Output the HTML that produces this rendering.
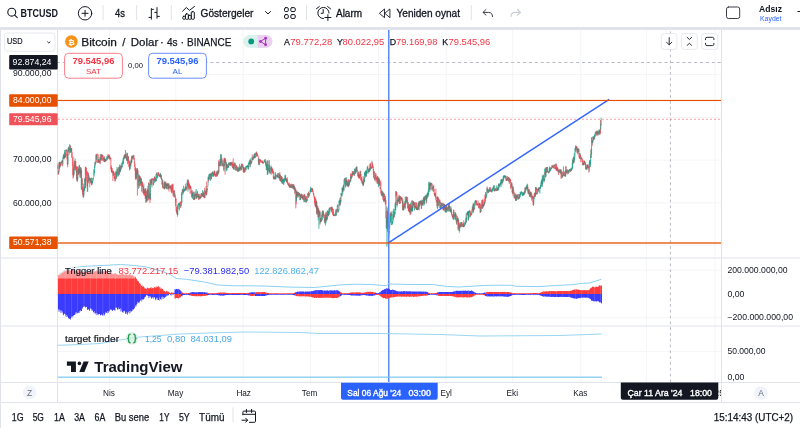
<!DOCTYPE html>
<html><head><meta charset="utf-8"><title>BTCUSD</title>
<style>
html,body{margin:0;padding:0;background:#fff;width:800px;height:428px;overflow:hidden}
svg{display:block;will-change:transform}
text{font-family:"Liberation Sans","DejaVu Sans",sans-serif;fill:#131722}
.b{font-weight:bold}
.m{stroke:#131722;stroke-width:0.3px}
.g{stroke:#089981}.r{stroke:#f23645}
</style></head><body>
<svg width="800" height="428" viewBox="0 0 800 428">
<defs><clipPath id="clipR"><rect x="0" y="0" width="721" height="428"/></clipPath></defs>
<!-- frame -->
<rect x="0" y="0" width="800" height="428" fill="#fff"/>
<rect x="0" y="27" width="800" height="3" fill="#e0e3eb"/>
<rect x="0" y="27" width="1" height="401" fill="#e0e3eb"/>

<!-- ===== top toolbar ===== -->
<g fill="none" stroke="#131722" stroke-width="1.1" stroke-linecap="round" stroke-linejoin="round">
  <circle cx="11.75" cy="12.15" r="3.95"/>
  <path d="M14.7 15.1L17.3 17.6"/>
  <circle cx="85.05" cy="13.3" r="6.7" stroke-width="1"/>
  <path d="M85.05 10.3V16.3M82.05 13.3H88.05" stroke-width="1"/>
  <!-- bars icon -->
  <path d="M151.35 8.2V19.5M148.6 17.4H151.35M151.35 9.4H153.8M157 7.2V18.7M154.4 12.4H157M157 16.4H159.8" stroke-width="1" stroke-linecap="butt"/>
  <!-- indicators -->
  <path d="M182.6 11.2L186.3 7.5L189.5 10.3L194.5 6.5" stroke-width="1"/>
  <rect x="182.8" y="16.3" width="2.6" height="3" rx="0.9" stroke-width="1"/><rect x="185.4" y="13.9" width="3" height="5.4" rx="1" stroke-width="1"/><rect x="188.4" y="15.4" width="2.9" height="3.9" rx="0.9" stroke-width="1"/><rect x="191.3" y="11.7" width="3" height="7.6" rx="1" stroke-width="1"/>
  <path d="M265.5 11.5L268 14L270.5 11.5" stroke-width="1"/>
  <!-- grid -->
  <rect x="284.5" y="7.65" width="3.8" height="3.9" rx="1.2" stroke-width="1"/>
  <rect x="290.8" y="7.65" width="4.45" height="3.9" rx="1.2" stroke-width="1"/>
  <rect x="284.5" y="14.6" width="3.8" height="3.8" rx="1.2" stroke-width="1"/>
  <rect x="290.8" y="14.6" width="4.45" height="3.8" rx="1.2" stroke-width="1"/>
  <!-- alarm -->
  <path d="M323.45 18.65A5.6 5.6 0 1 1 329.05 13.05" stroke-width="1"/>
  <path d="M323.2 9.5V13.3H321.2" stroke-width="1"/>
  <path d="M316.4 8.8L319.3 6.5M327.6 6.5L330.6 8.9" stroke-width="1"/>
  <path d="M324.9 17.5H330.9M327.9 14.7V20.5" stroke-width="1"/>
  <!-- replay -->
  <path d="M384.2 9.2L379.4 13.3L384.2 17.4ZM389.6 9.2L384.8 13.3L389.6 17.4Z" stroke-width="0.9"/>
  <!-- undo -->
  <path d="M486 9.5L483 12.4L486 15.2M483.2 12.4H488.5Q492.5 12.4 492.5 16.6" stroke="#3b3e48" stroke-width="1"/>
  <path d="M517.5 9.5L520.5 12.4L517.5 15.2M520.3 12.4H515Q511 12.4 511 16.6" stroke="#c9ccd6" stroke-width="1.1"/>
  <!-- square -->
  <rect x="726.5" y="7" width="13.2" height="11.5" rx="2" stroke="#3c3f4a" stroke-width="1"/>
</g>
<rect x="102.6" y="5" width="1" height="15" fill="#e0e3eb"/>
<rect x="136.1" y="5" width="1" height="15" fill="#e0e3eb"/>
<rect x="170.8" y="5" width="1" height="15" fill="#e0e3eb"/>
<rect x="306" y="5" width="1" height="15" fill="#e0e3eb"/>
<rect x="470.8" y="5" width="1" height="15" fill="#e0e3eb"/>
<text class="b" x="20.6" y="16.6" font-size="10" textLength="37.4" lengthAdjust="spacingAndGlyphs">BTCUSD</text>
<text class="m" x="115" y="16.6" font-size="10" textLength="10" lengthAdjust="spacingAndGlyphs">4s</text>
<text class="m" x="200.5" y="16.6" font-size="10" textLength="53" lengthAdjust="spacingAndGlyphs">Göstergeler</text>
<text class="m" x="336" y="16.6" font-size="10" textLength="26" lengthAdjust="spacingAndGlyphs">Alarm</text>
<text class="m" x="396.5" y="16.6" font-size="10" textLength="63.5" lengthAdjust="spacingAndGlyphs">Yeniden oynat</text>
<text x="759" y="12.4" font-size="9.4" class="b" textLength="23" lengthAdjust="spacingAndGlyphs">Adsız</text>
<text x="760" y="20.8" font-size="7" fill="#2962ff" style="fill:#2962ff" textLength="21.5" lengthAdjust="spacingAndGlyphs">Kaydet</text>
<path d="M797.5 11.5H800" stroke="#131722" stroke-width="1"/>

<!-- ===== chart frame ===== -->
<!-- grid vertical -->
<g stroke="#f4f5f6" stroke-width="1">
</g>
<path d="M109.5 30V382" stroke="#f4f5f6" stroke-width="1"/><path d="M175.8 30V382" stroke="#f4f5f6" stroke-width="1"/><path d="M243.2 30V382" stroke="#f4f5f6" stroke-width="1"/><path d="M310.5 30V382" stroke="#f4f5f6" stroke-width="1"/><path d="M378.5 30V382" stroke="#f4f5f6" stroke-width="1"/><path d="M446.2 30V382" stroke="#f4f5f6" stroke-width="1"/><path d="M512.6 30V382" stroke="#f4f5f6" stroke-width="1"/><path d="M580.8 30V382" stroke="#f4f5f6" stroke-width="1"/><path d="M646.4 30V382" stroke="#f4f5f6" stroke-width="1"/><path d="M715.0 30V382" stroke="#f4f5f6" stroke-width="1"/><path d="M58 74.5H721" stroke="#f4f5f6" stroke-width="1"/><path d="M58 117.5H721" stroke="#f4f5f6" stroke-width="1"/><path d="M58 160.2H721" stroke="#f4f5f6" stroke-width="1"/><path d="M58 202.8H721" stroke="#f4f5f6" stroke-width="1"/><path d="M58 245.0H721" stroke="#f4f5f6" stroke-width="1"/><path d="M58 270.3H721" stroke="#f4f5f6" stroke-width="1"/><path d="M58 317.7H721" stroke="#f4f5f6" stroke-width="1"/><path d="M58 351.5H721" stroke="#f4f5f6" stroke-width="1"/>

<!-- pane separators -->
<rect x="1" y="257" width="799" height="2" fill="#eef0f3"/>
<rect x="1" y="325.5" width="799" height="1" fill="#e0e3eb"/>
<rect x="1" y="382" width="799" height="1" fill="#e0e3eb"/>
<rect x="1" y="402" width="799" height="1" fill="#e0e3eb"/>
<rect x="57" y="30" width="1" height="373" fill="#e0e3eb"/>
<rect x="721" y="30" width="1" height="373" fill="#e0e3eb"/>

<!-- crosshair -->
<path d="M670.4 30V382" stroke="#b8bbc3" stroke-width="1" stroke-dasharray="2.8 3" stroke-dashoffset="4.4"/>
<path d="M58 62.5H721" stroke="#b8bbc3" stroke-width="1" stroke-dasharray="3.1 2.8" stroke-dashoffset="1.15"/>

<!-- main pane candles -->
<g stroke-width="0.7" fill="none"><path class="g" d="M57.80 165.5V168.8"/><path class="r" d="M58.14 162.7V174.7"/><path class="r" d="M58.48 170.5V174.3"/><path class="g" d="M58.82 171.2V173.1"/><path class="g" d="M59.16 162.6V171.9"/><path class="r" d="M59.50 161.9V169.5"/><path class="g" d="M59.84 161.8V167.3"/><path class="g" d="M60.18 161.7V167.3"/><path class="r" d="M60.52 162.6V165.8"/><path class="r" d="M60.86 164.1V166.2"/><path class="g" d="M61.20 162.1V165.3"/><path class="g" d="M61.54 161.6V163.5"/><path class="g" d="M61.88 160.9V162.8"/><path class="g" d="M62.22 159.9V162.0"/><path class="r" d="M62.56 160.2V166.3"/><path class="g" d="M62.90 157.2V164.1"/><path class="g" d="M63.24 155.6V158.3"/><path class="g" d="M63.58 153.9V159.4"/><path class="r" d="M63.92 154.7V158.3"/><path class="r" d="M64.26 154.9V159.3"/><path class="g" d="M64.60 150.0V158.2"/><path class="g" d="M64.94 152.1V157.9"/><path class="r" d="M65.28 152.4V157.6"/><path class="g" d="M65.62 150.1V157.2"/><path class="g" d="M65.96 149.4V150.8"/><path class="g" d="M66.30 149.4V151.5"/><path class="r" d="M66.64 149.9V155.7"/><path class="r" d="M66.98 154.3V159.2"/><path class="r" d="M67.32 155.1V164.7"/><path class="r" d="M67.66 150.3V167.3"/><path class="g" d="M68.00 148.5V164.5"/><path class="g" d="M68.34 147.7V151.7"/><path class="g" d="M68.68 146.5V149.4"/><path class="r" d="M69.02 147.2V155.1"/><path class="g" d="M69.36 149.2V152.9"/><path class="g" d="M69.70 144.1V150.0"/><path class="g" d="M70.04 145.1V150.6"/><path class="r" d="M70.38 145.8V152.3"/><path class="g" d="M70.72 148.3V152.8"/><path class="g" d="M71.06 147.8V152.5"/><path class="g" d="M71.40 148.2V151.9"/><path class="r" d="M71.74 147.9V157.7"/><path class="r" d="M72.08 152.0V157.7"/><path class="r" d="M72.42 157.5V165.6"/><path class="r" d="M72.76 164.7V175.1"/><path class="r" d="M73.10 156.3V178.7"/><path class="g" d="M73.44 168.8V177.5"/><path class="r" d="M73.78 166.2V176.1"/><path class="g" d="M74.12 161.7V174.7"/><path class="r" d="M74.46 160.6V166.3"/><path class="r" d="M74.80 164.9V170.0"/><path class="g" d="M75.14 158.3V170.5"/><path class="r" d="M75.48 161.0V168.5"/><path class="r" d="M75.82 161.1V169.8"/><path class="r" d="M76.16 166.2V172.2"/><path class="r" d="M76.50 166.5V179.4"/><path class="g" d="M76.84 170.0V180.9"/><path class="r" d="M77.18 166.9V182.1"/><path class="r" d="M77.52 177.2V180.8"/><path class="g" d="M77.86 166.2V178.9"/><path class="r" d="M78.20 166.6V175.3"/><path class="g" d="M78.54 168.6V174.3"/><path class="r" d="M78.88 169.0V174.6"/><path class="g" d="M79.22 164.8V173.4"/><path class="r" d="M79.56 165.0V173.1"/><path class="r" d="M79.90 167.1V176.9"/><path class="g" d="M80.24 169.6V178.0"/><path class="g" d="M80.58 167.0V173.8"/><path class="r" d="M80.92 167.6V177.8"/><path class="g" d="M81.26 168.3V189.4"/><path class="r" d="M81.60 170.5V189.7"/><path class="g" d="M81.94 178.8V185.0"/><path class="r" d="M82.28 178.1V191.8"/><path class="r" d="M82.62 186.7V194.7"/><path class="r" d="M82.96 188.8V196.7"/><path class="g" d="M83.30 183.7V197.9"/><path class="r" d="M83.64 190.0V197.3"/><path class="g" d="M83.98 186.7V195.6"/><path class="g" d="M84.32 186.6V190.4"/><path class="g" d="M84.66 178.6V191.1"/><path class="g" d="M85.00 177.8V185.3"/><path class="r" d="M85.34 166.9V188.0"/><path class="g" d="M85.68 166.7V188.3"/><path class="r" d="M86.02 167.3V172.6"/><path class="r" d="M86.36 168.0V174.0"/><path class="r" d="M86.70 172.8V181.3"/><path class="r" d="M87.04 171.7V186.3"/><path class="r" d="M87.38 180.7V191.7"/><path class="g" d="M87.72 171.1V191.9"/><path class="r" d="M88.06 172.3V175.5"/><path class="r" d="M88.40 173.6V183.3"/><path class="g" d="M88.74 175.0V181.5"/><path class="r" d="M89.08 176.3V180.0"/><path class="r" d="M89.42 177.6V180.3"/><path class="r" d="M89.76 178.6V187.3"/><path class="r" d="M90.10 178.3V182.8"/><path class="g" d="M90.44 178.0V182.5"/><path class="g" d="M90.78 178.3V180.1"/><path class="r" d="M91.12 178.4V183.9"/><path class="r" d="M91.46 180.2V185.1"/><path class="r" d="M91.80 177.3V185.2"/><path class="g" d="M92.14 181.2V184.4"/><path class="g" d="M92.48 180.8V183.0"/><path class="g" d="M92.82 178.2V181.7"/><path class="g" d="M93.16 178.1V180.3"/><path class="g" d="M93.50 177.5V178.9"/><path class="g" d="M93.84 169.0V177.5"/><path class="g" d="M94.18 171.1V175.4"/><path class="g" d="M94.52 165.8V173.0"/><path class="g" d="M94.86 161.7V168.4"/><path class="r" d="M95.20 162.5V165.9"/><path class="g" d="M95.54 162.3V164.3"/><path class="g" d="M95.88 154.3V163.5"/><path class="r" d="M96.22 155.1V162.0"/><path class="g" d="M96.56 154.4V159.8"/><path class="r" d="M96.90 153.7V155.7"/><path class="r" d="M97.24 153.7V162.7"/><path class="r" d="M97.58 161.6V162.7"/><path class="r" d="M97.92 160.6V162.6"/><path class="r" d="M98.26 154.3V162.8"/><path class="g" d="M98.60 158.7V162.5"/><path class="r" d="M98.94 159.8V161.7"/><path class="r" d="M99.28 160.3V163.3"/><path class="g" d="M99.62 159.3V163.2"/><path class="g" d="M99.96 157.0V161.6"/><path class="r" d="M100.30 154.3V164.2"/><path class="g" d="M100.64 157.8V160.1"/><path class="g" d="M100.98 154.0V158.6"/><path class="r" d="M101.32 154.2V160.5"/><path class="g" d="M101.66 154.6V159.5"/><path class="g" d="M102.00 154.6V157.3"/><path class="r" d="M102.34 154.7V161.0"/><path class="r" d="M102.68 155.2V156.0"/><path class="r" d="M103.02 155.5V159.8"/><path class="r" d="M103.36 158.2V160.1"/><path class="r" d="M103.70 156.9V161.5"/><path class="g" d="M104.04 158.7V161.1"/><path class="r" d="M104.38 156.3V162.1"/><path class="g" d="M104.72 157.7V162.1"/><path class="r" d="M105.06 159.1V162.1"/><path class="g" d="M105.40 159.2V161.8"/><path class="r" d="M105.74 158.5V161.3"/><path class="g" d="M106.08 159.9V160.9"/><path class="r" d="M106.42 159.8V160.7"/><path class="g" d="M106.76 156.3V160.4"/><path class="g" d="M107.10 157.6V159.9"/><path class="g" d="M107.44 156.7V159.4"/><path class="g" d="M107.78 154.7V158.0"/><path class="r" d="M108.12 154.3V157.4"/><path class="g" d="M108.46 156.1V157.6"/><path class="r" d="M108.80 154.3V158.8"/><path class="g" d="M109.14 156.6V158.9"/><path class="g" d="M109.48 155.2V158.4"/><path class="r" d="M109.82 155.8V160.2"/><path class="g" d="M110.16 157.5V158.3"/><path class="r" d="M110.50 157.7V159.2"/><path class="r" d="M110.84 157.9V169.2"/><path class="r" d="M111.18 165.3V171.3"/><path class="g" d="M111.52 167.1V172.6"/><path class="r" d="M111.86 168.0V172.4"/><path class="r" d="M112.20 168.4V172.3"/><path class="r" d="M112.54 171.3V173.3"/><path class="r" d="M112.88 170.4V181.0"/><path class="g" d="M113.22 171.6V176.1"/><path class="g" d="M113.56 171.2V175.0"/><path class="r" d="M113.90 171.5V175.5"/><path class="r" d="M114.24 173.2V178.5"/><path class="r" d="M114.58 176.2V179.4"/><path class="r" d="M114.92 173.2V181.6"/><path class="g" d="M115.26 177.4V181.1"/><path class="g" d="M115.60 172.0V179.5"/><path class="g" d="M115.94 170.6V173.8"/><path class="r" d="M116.28 173.1V179.0"/><path class="g" d="M116.62 171.5V178.3"/><path class="g" d="M116.96 166.9V176.8"/><path class="r" d="M117.30 169.1V173.2"/><path class="r" d="M117.64 168.4V174.6"/><path class="r" d="M117.98 171.6V176.5"/><path class="g" d="M118.32 174.3V176.1"/><path class="g" d="M118.66 167.0V175.1"/><path class="r" d="M119.00 167.1V174.6"/><path class="g" d="M119.34 164.8V174.7"/><path class="g" d="M119.68 166.9V173.5"/><path class="r" d="M120.02 164.7V172.2"/><path class="g" d="M120.36 168.7V171.8"/><path class="g" d="M120.70 165.5V170.8"/><path class="r" d="M121.04 165.6V169.8"/><path class="g" d="M121.38 162.7V168.6"/><path class="r" d="M121.72 166.2V168.2"/><path class="g" d="M122.06 166.2V167.5"/><path class="g" d="M122.40 162.4V166.8"/><path class="g" d="M122.74 160.7V164.7"/><path class="g" d="M123.08 158.4V163.5"/><path class="g" d="M123.42 157.6V164.2"/><path class="g" d="M123.76 156.7V159.7"/><path class="g" d="M124.10 155.2V158.3"/><path class="r" d="M124.44 154.7V158.1"/><path class="g" d="M124.78 154.9V159.0"/><path class="r" d="M125.12 154.0V157.8"/><path class="g" d="M125.46 150.0V158.0"/><path class="r" d="M125.80 154.1V158.2"/><path class="r" d="M126.14 154.6V158.5"/><path class="r" d="M126.48 156.6V160.7"/><path class="g" d="M126.82 152.6V160.6"/><path class="r" d="M127.16 152.8V155.9"/><path class="r" d="M127.50 153.5V164.2"/><path class="r" d="M127.84 157.5V161.5"/><path class="g" d="M128.18 155.7V161.0"/><path class="r" d="M128.52 156.5V163.3"/><path class="r" d="M128.86 161.3V166.7"/><path class="r" d="M129.20 163.8V167.4"/><path class="g" d="M129.54 160.6V170.5"/><path class="r" d="M129.88 161.6V169.4"/><path class="g" d="M130.22 163.9V169.0"/><path class="r" d="M130.56 162.5V165.9"/><path class="g" d="M130.90 160.2V166.3"/><path class="r" d="M131.24 159.0V163.6"/><path class="g" d="M131.58 156.7V163.4"/><path class="g" d="M131.92 155.6V162.1"/><path class="r" d="M132.26 155.5V158.5"/><path class="g" d="M132.60 156.0V158.5"/><path class="r" d="M132.94 155.7V159.5"/><path class="g" d="M133.28 156.6V158.3"/><path class="g" d="M133.62 154.8V157.9"/><path class="r" d="M133.96 155.2V160.0"/><path class="r" d="M134.30 158.0V162.9"/><path class="r" d="M134.64 161.6V166.8"/><path class="r" d="M134.98 163.6V171.0"/><path class="r" d="M135.32 166.9V178.7"/><path class="g" d="M135.66 168.1V179.8"/><path class="r" d="M136.00 169.8V177.8"/><path class="r" d="M136.34 171.8V179.6"/><path class="g" d="M136.68 168.4V178.3"/><path class="r" d="M137.02 168.0V173.3"/><path class="r" d="M137.36 168.4V195.7"/><path class="g" d="M137.70 169.3V175.2"/><path class="r" d="M138.04 170.3V186.0"/><path class="g" d="M138.38 180.1V188.9"/><path class="g" d="M138.72 174.2V182.3"/><path class="r" d="M139.06 175.8V188.0"/><path class="g" d="M139.40 175.3V186.3"/><path class="g" d="M139.74 175.6V180.7"/><path class="r" d="M140.08 176.1V181.5"/><path class="r" d="M140.42 177.1V185.9"/><path class="g" d="M140.76 178.5V184.1"/><path class="g" d="M141.10 178.3V185.4"/><path class="r" d="M141.44 178.4V191.7"/><path class="r" d="M141.78 180.9V184.5"/><path class="r" d="M142.12 182.1V186.5"/><path class="r" d="M142.46 181.8V187.0"/><path class="r" d="M142.80 185.3V193.0"/><path class="g" d="M143.14 185.8V191.6"/><path class="r" d="M143.48 187.3V194.1"/><path class="g" d="M143.82 183.7V194.2"/><path class="r" d="M144.16 191.4V195.9"/><path class="g" d="M144.50 189.2V193.2"/><path class="r" d="M144.84 188.4V195.6"/><path class="r" d="M145.18 191.4V198.9"/><path class="g" d="M145.52 188.7V197.9"/><path class="r" d="M145.86 187.9V203.1"/><path class="g" d="M146.20 194.7V202.1"/><path class="r" d="M146.54 190.4V201.6"/><path class="g" d="M146.88 196.3V200.9"/><path class="g" d="M147.22 190.6V201.6"/><path class="g" d="M147.56 188.7V197.1"/><path class="r" d="M147.90 185.8V200.0"/><path class="r" d="M148.24 190.3V200.5"/><path class="g" d="M148.58 183.1V198.4"/><path class="r" d="M148.92 182.0V185.5"/><path class="r" d="M149.26 183.8V199.5"/><path class="g" d="M149.60 192.9V198.5"/><path class="r" d="M149.94 179.3V203.1"/><path class="r" d="M150.28 193.7V200.2"/><path class="g" d="M150.62 179.9V199.0"/><path class="r" d="M150.96 179.3V184.3"/><path class="g" d="M151.30 178.7V185.1"/><path class="r" d="M151.64 178.7V182.8"/><path class="g" d="M151.98 178.7V187.3"/><path class="g" d="M152.32 178.5V180.2"/><path class="r" d="M152.66 178.8V180.2"/><path class="r" d="M153.00 178.3V184.7"/><path class="r" d="M153.34 183.1V185.4"/><path class="g" d="M153.68 178.9V184.7"/><path class="g" d="M154.02 178.2V180.8"/><path class="g" d="M154.36 176.4V183.1"/><path class="r" d="M154.70 177.1V179.4"/><path class="r" d="M155.04 176.7V181.1"/><path class="r" d="M155.38 177.8V181.0"/><path class="r" d="M155.72 179.6V182.2"/><path class="g" d="M156.06 174.2V181.3"/><path class="g" d="M156.40 172.9V181.0"/><path class="g" d="M156.74 172.9V173.9"/><path class="r" d="M157.08 172.2V174.8"/><path class="r" d="M157.42 174.3V178.4"/><path class="g" d="M157.76 174.9V177.9"/><path class="g" d="M158.10 172.4V176.2"/><path class="r" d="M158.44 172.1V175.7"/><path class="r" d="M158.78 173.4V174.6"/><path class="r" d="M159.12 174.0V176.1"/><path class="r" d="M159.46 175.3V176.8"/><path class="g" d="M159.80 174.3V176.7"/><path class="r" d="M160.14 173.6V177.1"/><path class="g" d="M160.48 173.2V176.8"/><path class="r" d="M160.82 175.1V178.5"/><path class="g" d="M161.16 174.6V178.7"/><path class="r" d="M161.50 175.5V179.9"/><path class="r" d="M161.84 178.3V184.1"/><path class="r" d="M162.18 183.0V185.0"/><path class="g" d="M162.52 179.3V187.3"/><path class="r" d="M162.86 180.1V188.0"/><path class="r" d="M163.20 183.5V188.5"/><path class="r" d="M163.54 187.1V188.2"/><path class="r" d="M163.88 186.7V188.4"/><path class="g" d="M164.22 181.4V189.2"/><path class="r" d="M164.56 181.6V189.4"/><path class="g" d="M164.90 182.7V188.9"/><path class="g" d="M165.24 181.5V185.1"/><path class="r" d="M165.58 181.9V188.3"/><path class="g" d="M165.92 183.9V188.0"/><path class="r" d="M166.26 182.7V186.9"/><path class="r" d="M166.60 183.6V189.0"/><path class="g" d="M166.94 183.7V189.4"/><path class="g" d="M167.28 184.0V189.3"/><path class="g" d="M167.62 183.3V186.5"/><path class="g" d="M167.96 183.1V185.2"/><path class="r" d="M168.30 183.9V189.0"/><path class="g" d="M168.64 183.5V189.5"/><path class="r" d="M168.98 183.7V191.5"/><path class="g" d="M169.32 185.6V187.8"/><path class="r" d="M169.66 185.7V188.3"/><path class="g" d="M170.00 185.6V187.5"/><path class="r" d="M170.34 185.5V189.3"/><path class="g" d="M170.68 186.3V188.5"/><path class="r" d="M171.02 185.5V191.5"/><path class="r" d="M171.36 186.5V192.6"/><path class="g" d="M171.70 185.0V193.3"/><path class="g" d="M172.04 184.3V186.0"/><path class="r" d="M172.38 183.9V190.5"/><path class="r" d="M172.72 185.1V192.6"/><path class="r" d="M173.06 183.7V195.7"/><path class="r" d="M173.40 190.9V196.9"/><path class="g" d="M173.74 190.9V194.4"/><path class="g" d="M174.08 190.1V192.3"/><path class="r" d="M174.42 190.4V197.4"/><path class="g" d="M174.76 193.0V196.8"/><path class="r" d="M175.10 194.5V197.3"/><path class="r" d="M175.44 196.3V206.3"/><path class="r" d="M175.78 197.6V201.7"/><path class="r" d="M176.12 199.0V211.0"/><path class="r" d="M176.46 207.0V212.4"/><path class="r" d="M176.80 210.2V214.3"/><path class="g" d="M177.14 210.2V213.8"/><path class="g" d="M177.48 204.8V216.7"/><path class="g" d="M177.82 206.8V215.1"/><path class="g" d="M178.16 203.5V209.1"/><path class="g" d="M178.50 204.1V205.0"/><path class="g" d="M178.84 202.8V206.8"/><path class="g" d="M179.18 203.0V204.4"/><path class="r" d="M179.52 202.7V210.5"/><path class="g" d="M179.86 203.1V205.3"/><path class="r" d="M180.20 201.6V204.2"/><path class="r" d="M180.54 201.6V208.0"/><path class="g" d="M180.88 205.0V207.0"/><path class="g" d="M181.22 204.4V205.9"/><path class="g" d="M181.56 192.1V204.9"/><path class="g" d="M181.90 193.7V203.0"/><path class="g" d="M182.24 189.6V195.1"/><path class="g" d="M182.58 188.6V192.8"/><path class="r" d="M182.92 190.2V192.1"/><path class="r" d="M183.26 189.8V194.4"/><path class="g" d="M183.60 185.8V192.7"/><path class="g" d="M183.94 189.3V191.8"/><path class="g" d="M184.28 189.5V191.5"/><path class="g" d="M184.62 188.9V190.7"/><path class="g" d="M184.96 187.9V190.8"/><path class="r" d="M185.30 186.5V190.5"/><path class="r" d="M185.64 183.7V190.2"/><path class="g" d="M185.98 186.6V190.2"/><path class="g" d="M186.32 186.9V188.2"/><path class="r" d="M186.66 186.5V190.3"/><path class="g" d="M187.00 182.5V189.1"/><path class="g" d="M187.34 179.9V186.1"/><path class="r" d="M187.68 180.0V186.6"/><path class="g" d="M188.02 179.1V191.5"/><path class="r" d="M188.36 180.1V185.2"/><path class="r" d="M188.70 181.9V188.8"/><path class="r" d="M189.04 182.9V188.0"/><path class="g" d="M189.38 184.2V189.7"/><path class="r" d="M189.72 184.3V188.0"/><path class="r" d="M190.06 185.3V193.7"/><path class="r" d="M190.40 186.0V188.8"/><path class="r" d="M190.74 186.7V188.4"/><path class="r" d="M191.08 187.5V193.5"/><path class="r" d="M191.42 190.8V196.3"/><path class="r" d="M191.76 195.3V197.2"/><path class="r" d="M192.10 190.0V197.9"/><path class="g" d="M192.44 193.0V198.8"/><path class="g" d="M192.78 191.5V196.1"/><path class="r" d="M193.12 191.5V194.3"/><path class="r" d="M193.46 192.3V199.9"/><path class="r" d="M193.80 198.0V199.8"/><path class="g" d="M194.14 194.3V200.0"/><path class="r" d="M194.48 194.2V200.1"/><path class="g" d="M194.82 192.1V199.1"/><path class="r" d="M195.16 191.3V195.4"/><path class="r" d="M195.50 194.1V196.4"/><path class="r" d="M195.84 194.6V198.9"/><path class="g" d="M196.18 189.0V198.0"/><path class="r" d="M196.52 193.2V198.7"/><path class="g" d="M196.86 195.3V198.8"/><path class="g" d="M197.20 190.7V197.1"/><path class="r" d="M197.54 191.5V196.4"/><path class="r" d="M197.88 194.2V197.5"/><path class="g" d="M198.22 196.4V197.5"/><path class="r" d="M198.56 194.3V200.0"/><path class="g" d="M198.90 193.7V198.8"/><path class="r" d="M199.24 193.9V197.9"/><path class="r" d="M199.58 196.1V199.4"/><path class="g" d="M199.92 196.0V199.1"/><path class="r" d="M200.26 196.9V198.5"/><path class="r" d="M200.60 194.3V198.4"/><path class="g" d="M200.94 196.5V198.0"/><path class="g" d="M201.28 193.1V197.5"/><path class="r" d="M201.62 193.0V195.3"/><path class="g" d="M201.96 193.2V196.1"/><path class="r" d="M202.30 194.1V196.6"/><path class="g" d="M202.64 190.0V196.3"/><path class="r" d="M202.98 192.7V196.7"/><path class="g" d="M203.32 192.7V197.1"/><path class="r" d="M203.66 191.3V197.1"/><path class="r" d="M204.00 193.1V197.6"/><path class="r" d="M204.34 195.6V198.1"/><path class="r" d="M204.68 187.9V198.3"/><path class="g" d="M205.02 190.1V197.9"/><path class="r" d="M205.36 191.6V193.9"/><path class="r" d="M205.70 191.0V193.8"/><path class="g" d="M206.04 186.2V195.8"/><path class="r" d="M206.38 189.3V194.9"/><path class="r" d="M206.72 181.6V194.5"/><path class="g" d="M207.06 188.7V192.4"/><path class="g" d="M207.40 188.2V190.0"/><path class="g" d="M207.74 185.5V187.4"/><path class="g" d="M208.08 176.6V185.2"/><path class="r" d="M208.42 177.0V181.6"/><path class="g" d="M208.76 174.3V180.3"/><path class="g" d="M209.10 177.5V179.6"/><path class="g" d="M209.44 174.2V179.3"/><path class="g" d="M209.78 173.7V176.6"/><path class="r" d="M210.12 173.7V178.1"/><path class="g" d="M210.46 173.5V181.0"/><path class="g" d="M210.80 173.8V175.2"/><path class="r" d="M211.14 172.8V179.5"/><path class="g" d="M211.48 174.7V179.0"/><path class="g" d="M211.82 172.9V176.2"/><path class="g" d="M212.16 172.2V175.0"/><path class="g" d="M212.50 171.5V176.7"/><path class="g" d="M212.84 171.9V173.0"/><path class="r" d="M213.18 171.7V174.5"/><path class="r" d="M213.52 173.1V176.6"/><path class="g" d="M213.86 172.9V176.6"/><path class="g" d="M214.20 170.6V174.6"/><path class="r" d="M214.54 170.7V175.7"/><path class="r" d="M214.88 171.5V174.8"/><path class="r" d="M215.22 173.5V176.6"/><path class="g" d="M215.56 174.2V176.6"/><path class="r" d="M215.90 174.6V175.6"/><path class="g" d="M216.24 171.5V175.4"/><path class="r" d="M216.58 171.7V176.7"/><path class="r" d="M216.92 174.3V176.7"/><path class="g" d="M217.26 171.3V176.0"/><path class="r" d="M217.60 170.1V175.3"/><path class="g" d="M217.94 172.2V174.7"/><path class="g" d="M218.28 170.9V174.0"/><path class="r" d="M218.62 160.3V173.4"/><path class="g" d="M218.96 162.3V172.2"/><path class="r" d="M219.30 161.3V165.9"/><path class="r" d="M219.64 163.2V166.3"/><path class="g" d="M219.98 158.9V166.0"/><path class="r" d="M220.32 159.4V166.4"/><path class="g" d="M220.66 154.3V165.4"/><path class="g" d="M221.00 154.1V163.2"/><path class="r" d="M221.34 154.7V163.1"/><path class="r" d="M221.68 157.9V165.7"/><path class="r" d="M222.02 164.3V166.0"/><path class="g" d="M222.36 163.0V166.4"/><path class="g" d="M222.70 160.6V163.7"/><path class="r" d="M223.04 158.3V166.4"/><path class="r" d="M223.38 163.2V166.0"/><path class="r" d="M223.72 164.9V170.2"/><path class="g" d="M224.06 160.0V171.5"/><path class="g" d="M224.40 157.7V166.1"/><path class="r" d="M224.74 158.1V162.5"/><path class="r" d="M225.08 157.9V174.7"/><path class="r" d="M225.42 159.0V163.0"/><path class="r" d="M225.76 160.1V165.2"/><path class="r" d="M226.10 163.4V169.1"/><path class="g" d="M226.44 162.2V171.1"/><path class="r" d="M226.78 163.7V168.2"/><path class="g" d="M227.12 164.2V170.5"/><path class="r" d="M227.46 164.3V167.2"/><path class="r" d="M227.80 165.4V168.1"/><path class="g" d="M228.14 166.1V168.0"/><path class="g" d="M228.48 163.4V167.6"/><path class="g" d="M228.82 162.5V164.5"/><path class="r" d="M229.16 162.2V166.3"/><path class="g" d="M229.50 163.5V165.1"/><path class="g" d="M229.84 162.4V164.9"/><path class="r" d="M230.18 162.8V165.7"/><path class="g" d="M230.52 162.1V165.5"/><path class="r" d="M230.86 162.1V165.2"/><path class="g" d="M231.20 162.7V166.3"/><path class="r" d="M231.54 162.4V164.8"/><path class="g" d="M231.88 162.3V164.7"/><path class="r" d="M232.22 161.5V166.9"/><path class="r" d="M232.56 163.0V168.2"/><path class="g" d="M232.90 166.8V168.1"/><path class="r" d="M233.24 158.3V168.8"/><path class="g" d="M233.58 164.0V169.2"/><path class="r" d="M233.92 164.2V169.5"/><path class="g" d="M234.26 162.7V169.9"/><path class="r" d="M234.60 162.9V165.8"/><path class="g" d="M234.94 162.5V164.9"/><path class="r" d="M235.28 163.5V168.3"/><path class="r" d="M235.62 164.8V170.5"/><path class="r" d="M235.96 167.0V170.3"/><path class="g" d="M236.30 165.2V170.6"/><path class="r" d="M236.64 165.3V167.9"/><path class="r" d="M236.98 166.2V170.6"/><path class="r" d="M237.32 168.4V171.4"/><path class="g" d="M237.66 166.9V171.5"/><path class="r" d="M238.00 169.1V171.9"/><path class="g" d="M238.34 168.2V171.7"/><path class="g" d="M238.68 166.7V170.3"/><path class="r" d="M239.02 167.6V168.4"/><path class="r" d="M239.36 168.0V171.3"/><path class="g" d="M239.70 163.7V171.1"/><path class="g" d="M240.04 166.6V169.3"/><path class="g" d="M240.38 166.3V168.6"/><path class="r" d="M240.72 166.4V170.6"/><path class="g" d="M241.06 168.0V169.9"/><path class="g" d="M241.40 164.4V170.2"/><path class="g" d="M241.74 163.4V169.4"/><path class="r" d="M242.08 163.8V166.8"/><path class="r" d="M242.42 164.0V166.6"/><path class="g" d="M242.76 165.7V168.1"/><path class="r" d="M243.10 165.1V171.2"/><path class="g" d="M243.44 167.4V172.4"/><path class="r" d="M243.78 166.9V173.0"/><path class="g" d="M244.12 167.3V172.2"/><path class="r" d="M244.46 167.7V172.6"/><path class="r" d="M244.80 170.3V172.1"/><path class="g" d="M245.14 169.0V172.0"/><path class="g" d="M245.48 167.5V169.9"/><path class="g" d="M245.82 166.3V169.1"/><path class="g" d="M246.16 166.2V170.5"/><path class="g" d="M246.50 166.0V167.7"/><path class="g" d="M246.84 165.5V166.9"/><path class="g" d="M247.18 165.8V166.6"/><path class="g" d="M247.52 164.8V167.1"/><path class="r" d="M247.86 165.5V168.7"/><path class="r" d="M248.20 164.8V169.4"/><path class="g" d="M248.54 163.1V169.5"/><path class="g" d="M248.88 162.2V164.0"/><path class="g" d="M249.22 161.0V164.5"/><path class="r" d="M249.56 160.0V164.4"/><path class="r" d="M249.90 162.4V167.5"/><path class="g" d="M250.24 158.3V167.0"/><path class="g" d="M250.58 159.9V163.3"/><path class="r" d="M250.92 160.1V164.7"/><path class="g" d="M251.26 161.8V164.0"/><path class="g" d="M251.60 161.1V163.0"/><path class="g" d="M251.94 157.3V162.0"/><path class="r" d="M252.28 154.3V160.0"/><path class="r" d="M252.62 158.0V160.4"/><path class="g" d="M252.96 156.6V160.0"/><path class="g" d="M253.30 157.6V159.5"/><path class="g" d="M253.64 156.1V158.3"/><path class="g" d="M253.98 154.3V157.1"/><path class="r" d="M254.32 153.8V158.5"/><path class="g" d="M254.66 153.2V158.2"/><path class="g" d="M255.00 155.2V158.1"/><path class="g" d="M255.34 152.5V157.9"/><path class="r" d="M255.68 153.5V154.5"/><path class="r" d="M256.02 154.1V155.0"/><path class="g" d="M256.36 151.6V156.4"/><path class="r" d="M256.70 151.8V156.7"/><path class="r" d="M257.04 152.9V155.2"/><path class="r" d="M257.38 153.8V155.6"/><path class="r" d="M257.72 154.8V156.3"/><path class="r" d="M258.06 155.8V156.9"/><path class="r" d="M258.40 156.8V163.8"/><path class="g" d="M258.74 158.3V165.2"/><path class="r" d="M259.08 159.8V164.7"/><path class="g" d="M259.42 158.8V165.1"/><path class="g" d="M259.76 159.5V160.5"/><path class="r" d="M260.10 159.2V161.2"/><path class="r" d="M260.44 159.6V161.4"/><path class="r" d="M260.78 160.2V163.1"/><path class="r" d="M261.12 160.1V161.3"/><path class="r" d="M261.46 160.9V162.2"/><path class="g" d="M261.80 161.2V162.3"/><path class="g" d="M262.14 161.7V162.8"/><path class="r" d="M262.48 160.9V163.1"/><path class="r" d="M262.82 160.6V163.6"/><path class="g" d="M263.16 162.3V163.6"/><path class="g" d="M263.50 162.5V163.4"/><path class="g" d="M263.84 162.1V163.0"/><path class="g" d="M264.18 160.4V162.7"/><path class="g" d="M264.52 160.3V161.5"/><path class="g" d="M264.86 159.3V162.1"/><path class="r" d="M265.20 159.0V161.7"/><path class="r" d="M265.54 160.9V164.9"/><path class="g" d="M265.88 161.6V166.3"/><path class="r" d="M266.22 161.7V170.0"/><path class="g" d="M266.56 165.2V170.0"/><path class="g" d="M266.90 163.5V167.7"/><path class="g" d="M267.24 160.0V174.7"/><path class="r" d="M267.58 161.0V174.7"/><path class="g" d="M267.92 168.6V174.5"/><path class="g" d="M268.26 164.2V171.7"/><path class="r" d="M268.60 167.6V169.0"/><path class="g" d="M268.94 160.4V171.0"/><path class="r" d="M269.28 160.2V172.6"/><path class="r" d="M269.62 165.2V172.5"/><path class="r" d="M269.96 169.6V173.5"/><path class="r" d="M270.30 172.6V173.5"/><path class="g" d="M270.64 167.4V173.8"/><path class="g" d="M270.98 165.4V170.2"/><path class="r" d="M271.32 166.6V174.7"/><path class="g" d="M271.66 167.0V172.0"/><path class="r" d="M272.00 167.7V171.0"/><path class="r" d="M272.34 168.4V173.0"/><path class="r" d="M272.68 169.1V173.1"/><path class="r" d="M273.02 169.8V174.1"/><path class="r" d="M273.36 171.1V178.7"/><path class="r" d="M273.70 175.8V179.3"/><path class="r" d="M274.04 177.4V179.3"/><path class="g" d="M274.38 176.8V179.3"/><path class="r" d="M274.72 176.4V179.3"/><path class="g" d="M275.06 172.2V179.3"/><path class="r" d="M275.40 172.5V179.3"/><path class="g" d="M275.74 177.4V179.1"/><path class="g" d="M276.08 174.8V178.7"/><path class="g" d="M276.42 175.5V176.6"/><path class="g" d="M276.76 175.3V176.1"/><path class="r" d="M277.10 174.5V177.4"/><path class="g" d="M277.44 173.2V177.5"/><path class="g" d="M277.78 175.3V177.0"/><path class="r" d="M278.12 176.2V177.6"/><path class="g" d="M278.46 173.2V178.3"/><path class="r" d="M278.80 173.3V174.9"/><path class="r" d="M279.14 173.3V178.5"/><path class="r" d="M279.48 174.8V179.2"/><path class="r" d="M279.82 172.1V180.8"/><path class="g" d="M280.16 174.2V181.1"/><path class="r" d="M280.50 175.3V181.4"/><path class="r" d="M280.84 178.7V180.2"/><path class="g" d="M281.18 176.3V181.6"/><path class="r" d="M281.52 176.0V182.3"/><path class="g" d="M281.86 177.3V183.1"/><path class="r" d="M282.20 177.0V183.9"/><path class="g" d="M282.54 179.3V183.8"/><path class="g" d="M282.88 179.0V181.5"/><path class="r" d="M283.22 179.8V180.6"/><path class="r" d="M283.56 178.6V184.6"/><path class="g" d="M283.90 178.5V184.8"/><path class="g" d="M284.24 180.1V182.4"/><path class="g" d="M284.58 178.5V181.8"/><path class="g" d="M284.92 175.6V180.2"/><path class="g" d="M285.26 174.8V181.0"/><path class="r" d="M285.60 175.0V180.2"/><path class="g" d="M285.94 178.2V180.1"/><path class="r" d="M286.28 177.9V182.6"/><path class="g" d="M286.62 178.9V182.0"/><path class="r" d="M286.96 179.4V181.7"/><path class="r" d="M287.30 177.3V183.1"/><path class="r" d="M287.64 180.0V184.2"/><path class="r" d="M287.98 182.4V184.9"/><path class="r" d="M288.32 183.3V185.5"/><path class="r" d="M288.66 183.6V186.2"/><path class="g" d="M289.00 184.1V186.3"/><path class="r" d="M289.34 182.7V187.3"/><path class="r" d="M289.68 185.0V187.6"/><path class="g" d="M290.02 185.5V187.9"/><path class="g" d="M290.36 184.2V187.4"/><path class="r" d="M290.70 184.4V187.3"/><path class="r" d="M291.04 187.1V187.9"/><path class="g" d="M291.38 184.5V187.9"/><path class="r" d="M291.72 183.7V187.3"/><path class="r" d="M292.06 186.1V187.4"/><path class="g" d="M292.40 184.3V188.1"/><path class="r" d="M292.74 184.0V188.7"/><path class="g" d="M293.08 186.1V188.7"/><path class="g" d="M293.42 184.1V188.3"/><path class="r" d="M293.76 184.3V189.4"/><path class="r" d="M294.10 185.4V189.8"/><path class="g" d="M294.44 186.0V189.7"/><path class="r" d="M294.78 186.9V194.1"/><path class="g" d="M295.12 187.7V192.9"/><path class="r" d="M295.46 188.6V191.6"/><path class="r" d="M295.80 189.4V208.4"/><path class="r" d="M296.14 189.7V204.4"/><path class="g" d="M296.48 191.6V201.4"/><path class="r" d="M296.82 191.9V197.1"/><path class="g" d="M297.16 191.0V195.9"/><path class="r" d="M297.50 191.8V196.3"/><path class="r" d="M297.84 192.1V198.0"/><path class="g" d="M298.18 195.3V196.2"/><path class="g" d="M298.52 192.1V196.8"/><path class="r" d="M298.86 192.5V195.5"/><path class="r" d="M299.20 192.9V194.4"/><path class="r" d="M299.54 193.2V196.2"/><path class="g" d="M299.88 193.6V200.0"/><path class="r" d="M300.22 194.2V200.3"/><path class="g" d="M300.56 194.9V200.0"/><path class="r" d="M300.90 194.3V198.5"/><path class="g" d="M301.24 193.7V198.3"/><path class="r" d="M301.58 193.8V197.5"/><path class="r" d="M301.92 195.1V198.0"/><path class="r" d="M302.26 194.3V198.1"/><path class="r" d="M302.60 196.6V199.5"/><path class="g" d="M302.94 194.5V199.6"/><path class="r" d="M303.28 195.1V198.9"/><path class="r" d="M303.62 197.5V200.3"/><path class="g" d="M303.96 195.6V202.2"/><path class="g" d="M304.30 193.8V202.1"/><path class="r" d="M304.64 194.1V196.7"/><path class="r" d="M304.98 195.0V200.3"/><path class="r" d="M305.32 198.1V201.7"/><path class="g" d="M305.66 196.1V202.4"/><path class="r" d="M306.00 196.1V199.9"/><path class="r" d="M306.34 196.3V202.6"/><path class="g" d="M306.68 199.4V201.8"/><path class="g" d="M307.02 199.7V201.1"/><path class="g" d="M307.36 193.6V200.6"/><path class="r" d="M307.70 193.9V194.7"/><path class="r" d="M308.04 193.0V195.7"/><path class="g" d="M308.38 192.1V197.9"/><path class="r" d="M308.72 191.5V197.4"/><path class="g" d="M309.06 194.9V196.5"/><path class="g" d="M309.40 193.7V195.5"/><path class="g" d="M309.74 193.0V194.4"/><path class="g" d="M310.08 190.0V193.4"/><path class="g" d="M310.42 186.9V192.3"/><path class="g" d="M310.76 189.6V192.0"/><path class="g" d="M311.10 188.0V191.8"/><path class="r" d="M311.44 187.8V189.7"/><path class="r" d="M311.78 189.0V192.1"/><path class="g" d="M312.12 188.2V191.3"/><path class="r" d="M312.46 188.3V191.5"/><path class="r" d="M312.80 189.1V192.2"/><path class="r" d="M313.14 191.3V193.6"/><path class="r" d="M313.48 192.9V195.3"/><path class="r" d="M313.82 193.3V196.8"/><path class="r" d="M314.16 195.8V198.7"/><path class="r" d="M314.50 197.0V202.9"/><path class="r" d="M314.84 196.3V205.3"/><path class="r" d="M315.18 202.2V206.6"/><path class="g" d="M315.52 198.0V206.7"/><path class="r" d="M315.86 199.0V207.6"/><path class="g" d="M316.20 200.4V208.5"/><path class="r" d="M316.54 201.0V213.6"/><path class="g" d="M316.88 202.3V214.7"/><path class="r" d="M317.22 205.4V214.2"/><path class="g" d="M317.56 207.4V212.7"/><path class="r" d="M317.90 205.9V217.0"/><path class="g" d="M318.24 207.8V220.3"/><path class="r" d="M318.58 208.5V217.1"/><path class="g" d="M318.92 209.7V228.7"/><path class="r" d="M319.26 210.7V217.6"/><path class="g" d="M319.60 211.6V215.8"/><path class="r" d="M319.94 210.7V224.7"/><path class="g" d="M320.28 218.0V223.4"/><path class="r" d="M320.62 218.8V222.1"/><path class="g" d="M320.96 212.3V222.0"/><path class="r" d="M321.30 214.6V221.7"/><path class="g" d="M321.64 219.6V221.0"/><path class="g" d="M321.98 217.5V220.3"/><path class="g" d="M322.32 210.9V219.7"/><path class="r" d="M322.66 210.7V216.7"/><path class="g" d="M323.00 210.3V218.0"/><path class="g" d="M323.34 211.0V215.2"/><path class="r" d="M323.68 212.5V216.2"/><path class="r" d="M324.02 214.7V217.9"/><path class="r" d="M324.36 214.6V221.4"/><path class="r" d="M324.70 217.9V222.9"/><path class="g" d="M325.04 218.0V223.5"/><path class="g" d="M325.38 213.3V225.7"/><path class="r" d="M325.72 215.0V221.3"/><path class="g" d="M326.06 211.6V223.3"/><path class="r" d="M326.40 212.4V220.5"/><path class="g" d="M326.74 216.9V220.8"/><path class="g" d="M327.08 214.1V218.9"/><path class="g" d="M327.42 210.3V219.7"/><path class="g" d="M327.76 210.8V214.9"/><path class="r" d="M328.10 211.0V216.7"/><path class="g" d="M328.44 211.7V216.0"/><path class="g" d="M328.78 209.2V215.0"/><path class="g" d="M329.12 208.1V209.6"/><path class="r" d="M329.46 207.7V214.7"/><path class="g" d="M329.80 209.3V212.6"/><path class="g" d="M330.14 207.3V211.1"/><path class="g" d="M330.48 207.7V208.8"/><path class="r" d="M330.82 207.0V208.9"/><path class="r" d="M331.16 207.1V210.0"/><path class="r" d="M331.50 206.9V212.6"/><path class="g" d="M331.84 206.5V211.0"/><path class="r" d="M332.18 207.1V210.8"/><path class="r" d="M332.52 208.3V213.8"/><path class="r" d="M332.86 211.0V215.1"/><path class="r" d="M333.20 213.0V215.6"/><path class="r" d="M333.54 209.0V216.1"/><path class="r" d="M333.88 214.4V215.9"/><path class="g" d="M334.22 215.3V216.1"/><path class="g" d="M334.56 214.3V215.6"/><path class="r" d="M334.90 214.5V216.3"/><path class="g" d="M335.24 212.7V215.5"/><path class="r" d="M335.58 210.6V215.5"/><path class="r" d="M335.92 209.0V216.1"/><path class="g" d="M336.26 214.5V215.6"/><path class="g" d="M336.60 209.6V214.8"/><path class="r" d="M336.94 208.7V212.6"/><path class="g" d="M337.28 205.4V211.7"/><path class="g" d="M337.62 205.1V206.7"/><path class="r" d="M337.96 204.0V212.8"/><path class="g" d="M338.30 209.7V212.0"/><path class="g" d="M338.64 209.6V211.0"/><path class="g" d="M338.98 200.9V210.0"/><path class="g" d="M339.32 199.8V202.6"/><path class="r" d="M339.66 200.7V205.2"/><path class="g" d="M340.00 198.0V206.3"/><path class="r" d="M340.34 197.2V204.8"/><path class="g" d="M340.68 200.0V203.5"/><path class="g" d="M341.02 193.1V201.8"/><path class="r" d="M341.36 192.9V195.8"/><path class="r" d="M341.70 193.8V196.5"/><path class="g" d="M342.04 187.9V196.2"/><path class="r" d="M342.38 187.4V192.5"/><path class="g" d="M342.72 187.9V194.3"/><path class="g" d="M343.06 186.2V191.4"/><path class="g" d="M343.40 184.6V189.7"/><path class="r" d="M343.74 185.0V191.4"/><path class="g" d="M344.08 179.3V190.4"/><path class="g" d="M344.42 178.6V184.7"/><path class="g" d="M344.76 178.6V179.8"/><path class="r" d="M345.10 178.3V181.0"/><path class="r" d="M345.44 177.5V187.5"/><path class="g" d="M345.78 180.0V186.8"/><path class="g" d="M346.12 180.5V184.2"/><path class="g" d="M346.46 177.3V185.2"/><path class="r" d="M346.80 179.1V185.7"/><path class="g" d="M347.14 181.7V186.6"/><path class="r" d="M347.48 180.8V185.8"/><path class="g" d="M347.82 184.0V186.4"/><path class="g" d="M348.16 179.8V185.6"/><path class="r" d="M348.50 179.3V187.3"/><path class="g" d="M348.84 182.2V186.4"/><path class="g" d="M349.18 183.3V185.6"/><path class="g" d="M349.52 179.9V184.2"/><path class="g" d="M349.86 179.8V182.7"/><path class="g" d="M350.20 179.3V182.3"/><path class="r" d="M350.54 173.2V181.0"/><path class="g" d="M350.88 176.2V180.8"/><path class="g" d="M351.22 175.7V178.9"/><path class="g" d="M351.56 173.8V178.5"/><path class="g" d="M351.90 173.7V177.7"/><path class="g" d="M352.24 170.9V175.0"/><path class="r" d="M352.58 171.1V176.7"/><path class="g" d="M352.92 173.3V174.7"/><path class="g" d="M353.26 172.5V174.9"/><path class="r" d="M353.60 171.2V173.8"/><path class="r" d="M353.94 171.4V175.7"/><path class="r" d="M354.28 172.8V175.7"/><path class="g" d="M354.62 169.0V175.4"/><path class="g" d="M354.96 168.1V172.6"/><path class="r" d="M355.30 168.8V174.0"/><path class="g" d="M355.64 170.1V173.4"/><path class="g" d="M355.98 167.1V171.7"/><path class="g" d="M356.32 167.3V169.6"/><path class="g" d="M356.66 166.4V172.6"/><path class="r" d="M357.00 166.7V171.0"/><path class="r" d="M357.34 169.6V173.5"/><path class="r" d="M357.68 173.1V175.8"/><path class="r" d="M358.02 174.3V176.9"/><path class="g" d="M358.36 172.1V177.3"/><path class="r" d="M358.70 172.4V177.9"/><path class="r" d="M359.04 171.1V178.9"/><path class="g" d="M359.38 174.3V178.5"/><path class="r" d="M359.72 175.2V178.0"/><path class="g" d="M360.06 173.0V176.9"/><path class="g" d="M360.40 170.9V175.9"/><path class="r" d="M360.74 170.8V180.1"/><path class="r" d="M361.08 174.2V181.3"/><path class="r" d="M361.42 177.0V179.9"/><path class="r" d="M361.76 178.4V182.6"/><path class="r" d="M362.10 179.7V183.8"/><path class="r" d="M362.44 181.8V183.7"/><path class="g" d="M362.78 181.0V185.5"/><path class="r" d="M363.12 176.0V185.9"/><path class="g" d="M363.46 181.6V185.6"/><path class="g" d="M363.80 178.4V184.4"/><path class="r" d="M364.14 177.3V182.3"/><path class="g" d="M364.48 172.8V181.9"/><path class="g" d="M364.82 172.1V175.6"/><path class="g" d="M365.16 171.4V175.0"/><path class="r" d="M365.50 170.7V177.7"/><path class="g" d="M365.84 170.7V175.8"/><path class="r" d="M366.18 170.9V176.9"/><path class="g" d="M366.52 171.0V176.3"/><path class="g" d="M366.86 169.3V173.4"/><path class="g" d="M367.20 166.9V170.6"/><path class="r" d="M367.54 166.6V169.0"/><path class="r" d="M367.88 165.5V173.7"/><path class="g" d="M368.22 169.7V173.4"/><path class="g" d="M368.56 169.6V171.8"/><path class="g" d="M368.90 168.5V171.6"/><path class="r" d="M369.24 168.1V172.3"/><path class="g" d="M369.58 168.4V171.8"/><path class="g" d="M369.92 163.9V170.2"/><path class="g" d="M370.26 163.6V170.7"/><path class="r" d="M370.60 162.8V168.7"/><path class="r" d="M370.94 167.5V168.3"/><path class="g" d="M371.28 166.1V168.7"/><path class="r" d="M371.62 166.8V168.6"/><path class="g" d="M371.96 160.8V168.6"/><path class="r" d="M372.30 162.4V165.7"/><path class="r" d="M372.64 163.8V167.8"/><path class="r" d="M372.98 165.3V168.1"/><path class="r" d="M373.32 166.8V173.8"/><path class="r" d="M373.66 169.0V177.7"/><path class="g" d="M374.00 171.4V178.2"/><path class="r" d="M374.34 171.4V179.6"/><path class="r" d="M374.68 178.5V180.3"/><path class="g" d="M375.02 178.4V180.7"/><path class="g" d="M375.36 174.9V179.3"/><path class="g" d="M375.70 173.0V177.7"/><path class="r" d="M376.04 173.7V182.4"/><path class="r" d="M376.38 177.5V179.1"/><path class="r" d="M376.72 176.7V180.8"/><path class="r" d="M377.06 178.3V183.5"/><path class="g" d="M377.40 175.8V184.1"/><path class="r" d="M377.74 176.4V179.5"/><path class="r" d="M378.08 177.1V182.6"/><path class="g" d="M378.42 177.7V187.1"/><path class="r" d="M378.76 178.1V183.8"/><path class="g" d="M379.10 178.4V185.9"/><path class="r" d="M379.44 178.8V184.8"/><path class="r" d="M379.78 179.9V185.8"/><path class="r" d="M380.12 181.9V189.0"/><path class="g" d="M380.46 187.6V189.2"/><path class="r" d="M380.80 180.7V193.2"/><path class="r" d="M381.14 189.2V194.4"/><path class="r" d="M381.48 190.6V195.9"/><path class="r" d="M381.82 193.1V195.1"/><path class="g" d="M382.16 192.0V196.5"/><path class="g" d="M382.50 190.8V195.9"/><path class="r" d="M382.84 191.8V199.9"/><path class="g" d="M383.18 193.1V197.7"/><path class="r" d="M383.52 192.5V201.3"/><path class="r" d="M383.86 199.3V201.8"/><path class="g" d="M384.20 193.5V201.9"/><path class="r" d="M384.54 194.0V200.9"/><path class="g" d="M384.88 199.0V200.8"/><path class="r" d="M385.22 197.8V203.7"/><path class="g" d="M385.56 195.9V204.8"/><path class="r" d="M385.90 199.9V218.4"/><path class="r" d="M386.24 210.7V228.2"/><path class="g" d="M386.58 217.6V229.0"/><path class="g" d="M386.92 206.3V246.7"/><path class="r" d="M387.26 208.2V227.4"/><path class="g" d="M387.60 211.3V231.7"/><path class="r" d="M387.94 212.9V223.4"/><path class="r" d="M388.28 214.6V245.7"/><path class="g" d="M388.62 219.9V228.5"/><path class="r" d="M388.96 222.2V237.3"/><path class="g" d="M389.30 230.7V233.3"/><path class="g" d="M389.64 224.3V229.3"/><path class="g" d="M389.98 213.3V225.3"/><path class="g" d="M390.32 215.2V223.1"/><path class="g" d="M390.66 212.3V221.7"/><path class="r" d="M391.00 211.6V216.0"/><path class="r" d="M391.34 213.3V215.6"/><path class="r" d="M391.68 213.9V225.1"/><path class="g" d="M392.02 211.0V225.0"/><path class="g" d="M392.36 221.9V223.9"/><path class="g" d="M392.70 221.0V222.9"/><path class="g" d="M393.04 214.3V221.8"/><path class="g" d="M393.38 208.7V219.7"/><path class="r" d="M393.72 211.4V218.4"/><path class="r" d="M394.06 214.6V217.5"/><path class="g" d="M394.40 211.9V216.8"/><path class="g" d="M394.74 209.2V214.7"/><path class="g" d="M395.08 203.4V214.2"/><path class="g" d="M395.42 202.1V209.8"/><path class="g" d="M395.76 191.3V210.4"/><path class="g" d="M396.10 191.0V196.7"/><path class="r" d="M396.44 191.5V195.1"/><path class="r" d="M396.78 192.0V205.2"/><path class="g" d="M397.12 199.8V207.3"/><path class="g" d="M397.46 199.8V204.7"/><path class="g" d="M397.80 197.0V201.1"/><path class="r" d="M398.14 194.7V203.4"/><path class="r" d="M398.48 198.3V201.5"/><path class="g" d="M398.82 197.8V202.1"/><path class="g" d="M399.16 196.2V201.3"/><path class="r" d="M399.50 195.3V204.0"/><path class="g" d="M399.84 196.0V204.0"/><path class="r" d="M400.18 196.0V197.7"/><path class="r" d="M400.52 196.3V203.4"/><path class="g" d="M400.86 196.7V198.8"/><path class="r" d="M401.20 197.0V199.4"/><path class="r" d="M401.54 197.3V200.7"/><path class="r" d="M401.88 197.7V200.1"/><path class="r" d="M402.22 198.0V202.8"/><path class="r" d="M402.56 200.6V209.8"/><path class="g" d="M402.90 199.3V210.4"/><path class="r" d="M403.24 202.9V210.4"/><path class="r" d="M403.58 205.3V210.3"/><path class="g" d="M403.92 205.9V210.0"/><path class="g" d="M404.26 201.3V207.6"/><path class="r" d="M404.60 203.8V206.7"/><path class="r" d="M404.94 202.6V208.5"/><path class="g" d="M405.28 197.0V208.7"/><path class="r" d="M405.62 200.2V204.7"/><path class="g" d="M405.96 196.4V203.7"/><path class="r" d="M406.30 196.4V202.4"/><path class="g" d="M406.64 197.3V202.3"/><path class="r" d="M406.98 197.3V200.2"/><path class="r" d="M407.32 200.0V203.7"/><path class="r" d="M407.66 197.0V208.7"/><path class="g" d="M408.00 201.9V208.0"/><path class="r" d="M408.34 202.6V211.0"/><path class="r" d="M408.68 205.5V211.1"/><path class="r" d="M409.02 207.6V212.0"/><path class="g" d="M409.36 204.0V212.9"/><path class="r" d="M409.70 205.0V212.0"/><path class="r" d="M410.04 204.0V215.1"/><path class="g" d="M410.38 202.7V211.9"/><path class="r" d="M410.72 204.7V214.5"/><path class="g" d="M411.06 207.9V213.6"/><path class="g" d="M411.40 206.2V210.8"/><path class="g" d="M411.74 200.6V210.8"/><path class="r" d="M412.08 200.5V211.8"/><path class="g" d="M412.42 206.1V211.6"/><path class="g" d="M412.76 200.5V210.6"/><path class="r" d="M413.10 200.8V208.0"/><path class="g" d="M413.44 201.9V205.6"/><path class="g" d="M413.78 201.5V204.6"/><path class="r" d="M414.12 202.2V205.9"/><path class="g" d="M414.46 202.9V210.4"/><path class="r" d="M414.80 202.3V207.3"/><path class="r" d="M415.14 205.8V208.6"/><path class="g" d="M415.48 205.7V208.5"/><path class="g" d="M415.82 202.3V207.2"/><path class="r" d="M416.16 202.3V209.7"/><path class="g" d="M416.50 206.9V210.1"/><path class="r" d="M416.84 202.9V209.7"/><path class="g" d="M417.18 207.3V209.7"/><path class="r" d="M417.52 206.8V210.2"/><path class="g" d="M417.86 204.7V210.0"/><path class="r" d="M418.20 202.7V209.8"/><path class="g" d="M418.54 202.8V209.3"/><path class="g" d="M418.88 201.3V204.7"/><path class="r" d="M419.22 201.1V210.4"/><path class="r" d="M419.56 201.0V206.8"/><path class="g" d="M419.90 203.0V206.1"/><path class="g" d="M420.24 200.6V204.0"/><path class="r" d="M420.58 200.9V204.6"/><path class="g" d="M420.92 200.3V204.1"/><path class="r" d="M421.26 201.1V209.0"/><path class="g" d="M421.60 200.5V208.7"/><path class="r" d="M421.94 199.4V204.4"/><path class="r" d="M422.28 202.7V204.9"/><path class="g" d="M422.62 200.1V205.9"/><path class="r" d="M422.96 200.8V205.3"/><path class="g" d="M423.30 198.1V204.1"/><path class="r" d="M423.64 196.8V201.6"/><path class="g" d="M423.98 197.0V205.7"/><path class="r" d="M424.32 198.1V203.6"/><path class="g" d="M424.66 196.0V204.3"/><path class="r" d="M425.00 196.5V199.5"/><path class="g" d="M425.34 196.6V199.9"/><path class="r" d="M425.68 195.1V198.2"/><path class="r" d="M426.02 195.8V201.0"/><path class="r" d="M426.36 194.7V203.4"/><path class="g" d="M426.70 194.8V202.4"/><path class="g" d="M427.04 193.5V199.1"/><path class="g" d="M427.38 193.4V196.5"/><path class="r" d="M427.72 191.6V197.8"/><path class="g" d="M428.06 193.1V196.8"/><path class="g" d="M428.40 189.2V195.5"/><path class="g" d="M428.74 181.8V194.4"/><path class="g" d="M429.08 183.8V189.3"/><path class="r" d="M429.42 183.4V190.7"/><path class="g" d="M429.76 181.8V192.0"/><path class="r" d="M430.10 182.6V185.9"/><path class="g" d="M430.44 183.0V186.1"/><path class="r" d="M430.78 183.0V189.5"/><path class="g" d="M431.12 182.7V190.2"/><path class="r" d="M431.46 182.9V183.9"/><path class="r" d="M431.80 183.3V185.7"/><path class="r" d="M432.14 183.8V190.1"/><path class="g" d="M432.48 186.8V188.6"/><path class="r" d="M432.82 186.8V190.8"/><path class="g" d="M433.16 185.3V191.7"/><path class="g" d="M433.50 186.0V187.9"/><path class="r" d="M433.84 185.5V191.7"/><path class="r" d="M434.18 189.1V194.3"/><path class="r" d="M434.52 193.0V195.7"/><path class="r" d="M434.86 192.4V196.7"/><path class="g" d="M435.20 192.9V196.0"/><path class="r" d="M435.54 194.0V197.8"/><path class="r" d="M435.88 188.8V199.8"/><path class="r" d="M436.22 197.0V201.9"/><path class="r" d="M436.56 200.1V202.3"/><path class="r" d="M436.90 201.0V206.2"/><path class="g" d="M437.24 196.3V208.3"/><path class="r" d="M437.58 196.5V209.3"/><path class="g" d="M437.92 197.3V203.1"/><path class="r" d="M438.26 197.6V199.4"/><path class="r" d="M438.60 197.8V206.1"/><path class="g" d="M438.94 202.4V205.4"/><path class="g" d="M439.28 199.3V208.1"/><path class="g" d="M439.62 200.1V202.3"/><path class="r" d="M439.96 199.7V203.5"/><path class="r" d="M440.30 201.9V208.7"/><path class="g" d="M440.64 205.5V208.7"/><path class="g" d="M440.98 202.1V207.3"/><path class="r" d="M441.32 203.2V207.2"/><path class="g" d="M441.66 202.9V208.3"/><path class="g" d="M442.00 204.6V205.7"/><path class="g" d="M442.34 204.1V205.6"/><path class="g" d="M442.68 202.8V206.0"/><path class="r" d="M443.02 202.9V210.0"/><path class="g" d="M443.36 207.6V210.4"/><path class="g" d="M443.70 203.7V210.4"/><path class="r" d="M444.04 203.9V210.4"/><path class="g" d="M444.38 203.9V208.7"/><path class="r" d="M444.72 204.1V210.5"/><path class="g" d="M445.06 206.8V212.0"/><path class="r" d="M445.40 206.8V212.3"/><path class="g" d="M445.74 206.7V212.4"/><path class="r" d="M446.08 206.1V211.4"/><path class="g" d="M446.42 205.7V212.7"/><path class="r" d="M446.76 205.3V210.5"/><path class="g" d="M447.10 207.7V210.6"/><path class="r" d="M447.44 207.3V208.9"/><path class="r" d="M447.78 207.3V211.7"/><path class="g" d="M448.12 206.2V211.5"/><path class="g" d="M448.46 203.6V208.4"/><path class="r" d="M448.80 203.6V210.5"/><path class="g" d="M449.14 206.0V211.4"/><path class="g" d="M449.48 204.2V209.0"/><path class="r" d="M449.82 206.0V211.3"/><path class="r" d="M450.16 208.6V211.8"/><path class="g" d="M450.50 209.0V211.9"/><path class="g" d="M450.84 206.3V212.7"/><path class="r" d="M451.18 207.7V212.0"/><path class="r" d="M451.52 209.7V214.4"/><path class="r" d="M451.86 211.8V215.8"/><path class="r" d="M452.20 214.0V216.8"/><path class="r" d="M452.54 215.3V217.6"/><path class="r" d="M452.88 216.2V218.8"/><path class="g" d="M453.22 213.8V219.8"/><path class="g" d="M453.56 209.5V219.7"/><path class="r" d="M453.90 210.0V217.0"/><path class="r" d="M454.24 215.0V217.0"/><path class="g" d="M454.58 214.3V219.5"/><path class="g" d="M454.92 211.8V215.6"/><path class="r" d="M455.26 212.2V217.3"/><path class="r" d="M455.60 213.3V220.3"/><path class="g" d="M455.94 213.7V219.9"/><path class="r" d="M456.28 214.6V222.7"/><path class="r" d="M456.62 220.3V224.1"/><path class="g" d="M456.96 218.6V225.0"/><path class="g" d="M457.30 216.0V221.6"/><path class="g" d="M457.64 217.7V221.3"/><path class="r" d="M457.98 217.5V229.6"/><path class="g" d="M458.32 218.7V230.7"/><path class="r" d="M458.66 220.0V226.1"/><path class="r" d="M459.00 222.9V229.0"/><path class="r" d="M459.34 222.7V232.7"/><path class="g" d="M459.68 225.7V231.0"/><path class="g" d="M460.02 224.4V227.5"/><path class="r" d="M460.36 224.8V227.1"/><path class="g" d="M460.70 222.1V227.4"/><path class="r" d="M461.04 223.0V227.2"/><path class="g" d="M461.38 222.1V226.8"/><path class="r" d="M461.72 221.9V224.6"/><path class="r" d="M462.06 222.2V225.5"/><path class="r" d="M462.40 223.5V226.5"/><path class="r" d="M462.74 224.9V227.0"/><path class="g" d="M463.08 224.4V227.4"/><path class="r" d="M463.42 223.1V227.0"/><path class="r" d="M463.76 220.3V226.8"/><path class="r" d="M464.10 224.5V227.0"/><path class="g" d="M464.44 224.5V226.3"/><path class="g" d="M464.78 222.2V225.6"/><path class="g" d="M465.12 222.9V224.9"/><path class="g" d="M465.46 221.6V224.2"/><path class="g" d="M465.80 217.8V223.5"/><path class="r" d="M466.14 213.3V222.2"/><path class="g" d="M466.48 217.7V222.4"/><path class="g" d="M466.82 213.4V219.5"/><path class="g" d="M467.16 211.8V215.0"/><path class="g" d="M467.50 211.5V215.4"/><path class="g" d="M467.84 211.4V213.7"/><path class="r" d="M468.18 211.9V220.7"/><path class="g" d="M468.52 211.0V220.4"/><path class="g" d="M468.86 211.1V218.3"/><path class="g" d="M469.20 210.4V213.0"/><path class="g" d="M469.54 210.4V212.2"/><path class="r" d="M469.88 210.6V217.3"/><path class="g" d="M470.22 212.0V217.1"/><path class="r" d="M470.56 212.6V215.7"/><path class="r" d="M470.90 211.0V215.7"/><path class="g" d="M471.24 214.5V215.3"/><path class="g" d="M471.58 213.3V215.0"/><path class="g" d="M471.92 209.9V214.6"/><path class="g" d="M472.26 206.5V212.6"/><path class="r" d="M472.60 206.8V210.9"/><path class="g" d="M472.94 204.2V210.6"/><path class="r" d="M473.28 203.3V213.1"/><path class="g" d="M473.62 203.4V212.1"/><path class="r" d="M473.96 203.4V210.4"/><path class="r" d="M474.30 208.2V209.4"/><path class="g" d="M474.64 202.1V209.1"/><path class="g" d="M474.98 201.2V202.9"/><path class="g" d="M475.32 200.3V202.3"/><path class="g" d="M475.66 199.9V205.7"/><path class="r" d="M476.00 200.6V203.9"/><path class="g" d="M476.34 201.1V203.3"/><path class="r" d="M476.68 200.4V205.4"/><path class="r" d="M477.02 204.0V205.4"/><path class="r" d="M477.36 203.2V204.9"/><path class="g" d="M477.70 203.8V205.2"/><path class="r" d="M478.04 200.5V205.8"/><path class="r" d="M478.38 203.1V207.0"/><path class="r" d="M478.72 206.2V208.2"/><path class="r" d="M479.06 206.5V208.0"/><path class="g" d="M479.40 203.1V208.8"/><path class="g" d="M479.74 202.7V205.9"/><path class="r" d="M480.08 203.2V212.7"/><path class="r" d="M480.42 204.5V212.8"/><path class="g" d="M480.76 209.3V212.2"/><path class="g" d="M481.10 206.9V211.6"/><path class="g" d="M481.44 204.8V208.7"/><path class="g" d="M481.78 200.3V206.5"/><path class="r" d="M482.12 200.0V205.9"/><path class="r" d="M482.46 199.3V209.0"/><path class="g" d="M482.80 204.6V208.3"/><path class="r" d="M483.14 203.5V207.6"/><path class="g" d="M483.48 203.9V206.9"/><path class="g" d="M483.82 200.5V206.2"/><path class="r" d="M484.16 198.7V205.5"/><path class="g" d="M484.50 201.7V204.8"/><path class="r" d="M484.84 194.7V203.8"/><path class="g" d="M485.18 201.6V202.7"/><path class="g" d="M485.52 192.0V201.2"/><path class="r" d="M485.86 193.8V199.0"/><path class="g" d="M486.20 196.0V198.1"/><path class="g" d="M486.54 193.5V196.5"/><path class="g" d="M486.88 187.6V194.9"/><path class="r" d="M487.22 186.5V192.9"/><path class="r" d="M487.56 188.9V191.6"/><path class="r" d="M487.90 188.5V193.2"/><path class="r" d="M488.24 190.2V192.9"/><path class="g" d="M488.58 189.3V192.8"/><path class="g" d="M488.92 190.0V191.5"/><path class="g" d="M489.26 189.6V190.4"/><path class="r" d="M489.60 187.7V191.7"/><path class="g" d="M489.94 187.1V192.1"/><path class="r" d="M490.28 187.1V191.4"/><path class="r" d="M490.62 189.5V191.5"/><path class="g" d="M490.96 189.3V191.1"/><path class="r" d="M491.30 190.4V192.2"/><path class="g" d="M491.64 190.7V192.1"/><path class="g" d="M491.98 187.7V192.3"/><path class="g" d="M492.32 188.6V191.4"/><path class="g" d="M492.66 188.8V190.2"/><path class="g" d="M493.00 187.3V190.5"/><path class="g" d="M493.34 185.7V188.4"/><path class="r" d="M493.68 185.4V190.2"/><path class="r" d="M494.02 189.7V191.3"/><path class="g" d="M494.36 185.3V191.2"/><path class="r" d="M494.70 188.4V191.2"/><path class="g" d="M495.04 188.4V191.2"/><path class="g" d="M495.38 189.2V190.2"/><path class="g" d="M495.72 188.5V190.5"/><path class="r" d="M496.06 187.3V191.2"/><path class="r" d="M496.40 189.9V190.7"/><path class="g" d="M496.74 185.3V190.6"/><path class="r" d="M497.08 188.0V190.9"/><path class="g" d="M497.42 187.9V190.8"/><path class="r" d="M497.76 186.6V190.6"/><path class="g" d="M498.10 189.6V190.4"/><path class="g" d="M498.44 183.8V190.2"/><path class="g" d="M498.78 183.7V189.4"/><path class="r" d="M499.12 183.4V186.4"/><path class="r" d="M499.46 185.1V186.0"/><path class="g" d="M499.80 183.8V187.7"/><path class="g" d="M500.14 183.4V185.8"/><path class="g" d="M500.48 182.1V184.7"/><path class="g" d="M500.82 179.8V184.3"/><path class="g" d="M501.16 179.5V187.1"/><path class="r" d="M501.50 179.4V183.2"/><path class="g" d="M501.84 178.8V183.3"/><path class="r" d="M502.18 179.3V184.6"/><path class="g" d="M502.52 181.1V182.7"/><path class="g" d="M502.86 178.7V182.5"/><path class="g" d="M503.20 176.1V181.2"/><path class="r" d="M503.54 175.7V181.2"/><path class="r" d="M503.88 175.6V178.8"/><path class="g" d="M504.22 175.4V177.4"/><path class="g" d="M504.56 175.4V177.5"/><path class="g" d="M504.90 175.8V177.6"/><path class="g" d="M505.24 175.7V176.5"/><path class="r" d="M505.58 175.6V178.6"/><path class="r" d="M505.92 176.0V180.6"/><path class="r" d="M506.26 178.3V180.9"/><path class="r" d="M506.60 179.0V180.8"/><path class="g" d="M506.94 176.2V180.9"/><path class="r" d="M507.28 176.1V180.3"/><path class="r" d="M507.62 178.5V180.2"/><path class="r" d="M507.96 178.1V180.5"/><path class="g" d="M508.30 177.1V181.2"/><path class="r" d="M508.64 177.0V178.6"/><path class="r" d="M508.98 177.4V182.6"/><path class="g" d="M509.32 177.9V184.2"/><path class="r" d="M509.66 178.3V182.0"/><path class="g" d="M510.00 179.4V180.5"/><path class="r" d="M510.34 179.1V182.4"/><path class="r" d="M510.68 179.6V189.1"/><path class="r" d="M511.02 184.7V187.2"/><path class="g" d="M511.36 182.4V188.1"/><path class="g" d="M511.70 182.6V185.3"/><path class="r" d="M512.04 183.3V192.4"/><path class="r" d="M512.38 188.9V193.7"/><path class="g" d="M512.72 185.6V193.9"/><path class="r" d="M513.06 186.4V196.1"/><path class="r" d="M513.40 187.3V191.2"/><path class="r" d="M513.74 190.5V193.9"/><path class="r" d="M514.08 191.9V198.5"/><path class="g" d="M514.42 195.2V197.8"/><path class="g" d="M514.76 193.4V196.7"/><path class="r" d="M515.10 193.4V199.1"/><path class="r" d="M515.44 194.3V200.7"/><path class="g" d="M515.78 196.2V200.8"/><path class="r" d="M516.12 196.6V200.8"/><path class="g" d="M516.46 195.2V200.6"/><path class="r" d="M516.80 193.9V198.5"/><path class="g" d="M517.14 195.2V197.7"/><path class="r" d="M517.48 194.6V198.1"/><path class="r" d="M517.82 194.3V199.7"/><path class="g" d="M518.16 197.3V199.5"/><path class="r" d="M518.50 197.1V199.2"/><path class="g" d="M518.84 194.0V198.9"/><path class="r" d="M519.18 193.8V198.2"/><path class="g" d="M519.52 194.8V198.6"/><path class="g" d="M519.86 194.3V195.9"/><path class="g" d="M520.20 192.1V197.3"/><path class="g" d="M520.54 192.5V195.3"/><path class="g" d="M520.88 191.5V193.2"/><path class="g" d="M521.22 191.5V193.7"/><path class="r" d="M521.56 191.5V193.5"/><path class="r" d="M521.90 192.6V195.3"/><path class="r" d="M522.24 193.5V195.1"/><path class="g" d="M522.58 192.1V196.1"/><path class="g" d="M522.92 193.9V195.5"/><path class="g" d="M523.26 192.5V195.3"/><path class="r" d="M523.60 192.7V195.3"/><path class="g" d="M523.94 192.1V195.3"/><path class="g" d="M524.28 191.3V194.7"/><path class="g" d="M524.62 190.4V193.4"/><path class="r" d="M524.96 187.4V193.7"/><path class="g" d="M525.30 187.3V192.6"/><path class="g" d="M525.64 188.1V189.9"/><path class="g" d="M525.98 187.4V190.6"/><path class="g" d="M526.32 184.9V188.9"/><path class="r" d="M526.66 186.7V188.7"/><path class="g" d="M527.00 186.0V189.8"/><path class="g" d="M527.34 183.7V191.5"/><path class="r" d="M527.68 184.5V189.0"/><path class="r" d="M528.02 187.1V193.7"/><path class="r" d="M528.36 190.4V194.4"/><path class="g" d="M528.70 189.1V194.0"/><path class="r" d="M529.04 189.2V192.6"/><path class="r" d="M529.38 189.7V196.1"/><path class="g" d="M529.72 193.1V197.1"/><path class="r" d="M530.06 192.2V196.6"/><path class="g" d="M530.40 191.7V196.6"/><path class="r" d="M530.74 191.5V197.1"/><path class="g" d="M531.08 192.1V198.2"/><path class="r" d="M531.42 192.8V195.1"/><path class="r" d="M531.76 193.4V200.7"/><path class="g" d="M532.10 195.8V199.2"/><path class="r" d="M532.44 195.5V198.1"/><path class="r" d="M532.78 196.5V202.1"/><path class="r" d="M533.12 201.2V205.0"/><path class="r" d="M533.46 196.7V206.0"/><path class="g" d="M533.80 196.1V204.6"/><path class="g" d="M534.14 193.9V199.2"/><path class="r" d="M534.48 192.8V197.2"/><path class="r" d="M534.82 193.1V195.9"/><path class="g" d="M535.16 192.1V197.0"/><path class="r" d="M535.50 187.4V196.6"/><path class="g" d="M535.84 187.0V194.8"/><path class="g" d="M536.18 187.2V190.3"/><path class="r" d="M536.52 187.9V194.3"/><path class="g" d="M536.86 193.2V194.5"/><path class="g" d="M537.20 192.6V194.0"/><path class="g" d="M537.54 188.6V193.5"/><path class="g" d="M537.88 189.4V191.4"/><path class="g" d="M538.22 187.7V190.4"/><path class="r" d="M538.56 187.6V191.2"/><path class="g" d="M538.90 188.0V192.4"/><path class="g" d="M539.24 187.2V188.6"/><path class="r" d="M539.58 187.5V189.2"/><path class="g" d="M539.92 187.4V193.7"/><path class="g" d="M540.26 186.0V188.7"/><path class="g" d="M540.60 184.8V188.5"/><path class="g" d="M540.94 182.2V186.7"/><path class="g" d="M541.28 180.6V185.4"/><path class="g" d="M541.62 179.8V183.5"/><path class="r" d="M541.96 179.2V186.8"/><path class="g" d="M542.30 175.7V186.8"/><path class="g" d="M542.64 177.6V183.9"/><path class="g" d="M542.98 174.6V180.7"/><path class="r" d="M543.32 174.9V177.5"/><path class="r" d="M543.66 175.6V181.5"/><path class="r" d="M544.00 176.7V182.5"/><path class="g" d="M544.34 179.0V181.4"/><path class="g" d="M544.68 168.7V180.1"/><path class="r" d="M545.02 172.0V175.1"/><path class="g" d="M545.36 167.8V177.1"/><path class="r" d="M545.70 167.6V177.4"/><path class="g" d="M546.04 170.9V176.4"/><path class="g" d="M546.38 167.4V172.0"/><path class="r" d="M546.72 167.1V172.6"/><path class="g" d="M547.06 166.9V172.7"/><path class="r" d="M547.40 166.8V172.0"/><path class="g" d="M547.74 170.8V171.6"/><path class="r" d="M548.08 171.0V172.5"/><path class="r" d="M548.42 171.6V173.3"/><path class="g" d="M548.76 171.4V173.3"/><path class="g" d="M549.10 168.6V171.9"/><path class="g" d="M549.44 166.4V172.7"/><path class="r" d="M549.78 167.5V171.5"/><path class="g" d="M550.12 170.1V171.2"/><path class="g" d="M550.46 168.3V171.2"/><path class="g" d="M550.80 167.0V169.8"/><path class="r" d="M551.14 167.4V169.4"/><path class="g" d="M551.48 168.4V169.2"/><path class="g" d="M551.82 165.3V168.7"/><path class="g" d="M552.16 165.7V167.5"/><path class="g" d="M552.50 165.6V167.1"/><path class="r" d="M552.84 164.9V167.7"/><path class="r" d="M553.18 166.7V168.2"/><path class="g" d="M553.52 166.4V168.3"/><path class="g" d="M553.86 164.7V166.7"/><path class="r" d="M554.20 165.0V168.1"/><path class="g" d="M554.54 164.5V166.2"/><path class="r" d="M554.88 164.8V169.1"/><path class="g" d="M555.22 167.6V169.7"/><path class="g" d="M555.56 164.3V169.1"/><path class="g" d="M555.90 163.7V165.1"/><path class="r" d="M556.24 163.5V170.4"/><path class="r" d="M556.58 165.2V170.9"/><path class="r" d="M556.92 168.3V171.1"/><path class="g" d="M557.26 167.6V170.8"/><path class="r" d="M557.60 166.8V170.2"/><path class="r" d="M557.94 168.2V172.7"/><path class="g" d="M558.28 170.0V172.0"/><path class="r" d="M558.62 169.3V175.1"/><path class="g" d="M558.96 170.5V172.2"/><path class="g" d="M559.30 170.0V172.7"/><path class="r" d="M559.64 169.3V170.6"/><path class="r" d="M559.98 169.4V173.2"/><path class="g" d="M560.32 170.8V173.2"/><path class="g" d="M560.66 169.3V174.2"/><path class="r" d="M561.00 169.3V178.7"/><path class="r" d="M561.34 170.3V171.3"/><path class="r" d="M561.68 170.8V178.4"/><path class="g" d="M562.02 172.2V177.9"/><path class="r" d="M562.36 171.8V177.3"/><path class="g" d="M562.70 175.6V176.8"/><path class="g" d="M563.04 175.1V176.3"/><path class="g" d="M563.38 166.4V175.6"/><path class="g" d="M563.72 173.4V175.9"/><path class="g" d="M564.06 170.9V174.4"/><path class="r" d="M564.40 172.1V176.1"/><path class="r" d="M564.74 174.8V176.1"/><path class="g" d="M565.08 174.4V176.6"/><path class="g" d="M565.42 170.2V176.8"/><path class="g" d="M565.76 165.9V176.3"/><path class="r" d="M566.10 166.6V173.1"/><path class="r" d="M566.44 170.6V173.7"/><path class="g" d="M566.78 170.0V173.1"/><path class="r" d="M567.12 169.8V171.3"/><path class="r" d="M567.46 169.2V173.0"/><path class="r" d="M567.80 172.6V174.5"/><path class="g" d="M568.14 171.0V174.0"/><path class="g" d="M568.48 170.0V172.6"/><path class="r" d="M568.82 170.6V173.0"/><path class="g" d="M569.16 169.3V172.6"/><path class="g" d="M569.50 169.0V170.8"/><path class="r" d="M569.84 169.2V170.2"/><path class="r" d="M570.18 169.4V171.3"/><path class="g" d="M570.52 168.7V171.9"/><path class="r" d="M570.86 169.5V171.5"/><path class="g" d="M571.20 168.1V171.0"/><path class="r" d="M571.54 168.0V170.5"/><path class="g" d="M571.88 167.2V170.0"/><path class="g" d="M572.22 162.7V168.8"/><path class="g" d="M572.56 160.0V168.5"/><path class="g" d="M572.90 158.3V163.5"/><path class="r" d="M573.24 158.0V163.4"/><path class="g" d="M573.58 156.6V163.2"/><path class="r" d="M573.92 156.9V163.3"/><path class="g" d="M574.26 152.8V162.0"/><path class="g" d="M574.60 157.4V159.5"/><path class="g" d="M574.94 148.6V157.4"/><path class="g" d="M575.28 147.0V149.8"/><path class="g" d="M575.62 145.3V152.2"/><path class="g" d="M575.96 147.7V149.7"/><path class="g" d="M576.30 145.9V150.6"/><path class="r" d="M576.64 146.1V148.3"/><path class="r" d="M576.98 146.7V152.8"/><path class="g" d="M577.32 147.9V152.2"/><path class="r" d="M577.66 148.4V153.6"/><path class="g" d="M578.00 149.1V154.5"/><path class="r" d="M578.34 148.5V151.2"/><path class="g" d="M578.68 148.4V152.4"/><path class="r" d="M579.02 149.3V157.1"/><path class="r" d="M579.36 153.2V158.8"/><path class="r" d="M579.70 156.9V158.4"/><path class="g" d="M580.04 153.1V159.0"/><path class="r" d="M580.38 154.5V157.6"/><path class="r" d="M580.72 155.6V162.0"/><path class="g" d="M581.06 157.1V159.4"/><path class="r" d="M581.40 157.6V158.7"/><path class="r" d="M581.74 157.6V159.7"/><path class="r" d="M582.08 158.3V162.5"/><path class="r" d="M582.42 159.3V165.1"/><path class="r" d="M582.76 163.0V164.8"/><path class="g" d="M583.10 162.2V165.4"/><path class="g" d="M583.44 163.0V165.1"/><path class="g" d="M583.78 160.5V165.3"/><path class="r" d="M584.12 160.5V162.8"/><path class="r" d="M584.46 160.9V164.4"/><path class="g" d="M584.80 161.6V164.3"/><path class="r" d="M585.14 161.9V165.0"/><path class="r" d="M585.48 162.6V169.3"/><path class="r" d="M585.82 164.0V167.9"/><path class="r" d="M586.16 166.3V169.9"/><path class="g" d="M586.50 167.4V169.6"/><path class="g" d="M586.84 164.8V169.5"/><path class="r" d="M587.18 164.2V169.3"/><path class="r" d="M587.52 165.0V167.6"/><path class="g" d="M587.86 164.6V167.9"/><path class="r" d="M588.20 164.7V168.5"/><path class="r" d="M588.54 167.4V168.2"/><path class="r" d="M588.88 165.9V172.6"/><path class="g" d="M589.22 162.4V171.4"/><path class="g" d="M589.56 160.4V163.9"/><path class="r" d="M589.90 160.6V167.8"/><path class="g" d="M590.24 160.0V167.0"/><path class="g" d="M590.58 154.3V165.3"/><path class="g" d="M590.92 149.7V157.7"/><path class="r" d="M591.26 148.5V157.9"/><path class="g" d="M591.60 137.4V154.3"/><path class="r" d="M591.94 137.0V142.9"/><path class="r" d="M592.28 139.9V145.7"/><path class="g" d="M592.62 140.8V143.4"/><path class="g" d="M592.96 136.2V142.6"/><path class="r" d="M593.30 137.3V140.5"/><path class="g" d="M593.64 136.3V140.2"/><path class="g" d="M593.98 136.6V139.0"/><path class="r" d="M594.32 136.5V139.2"/><path class="g" d="M594.66 133.9V139.4"/><path class="g" d="M595.00 134.9V136.7"/><path class="g" d="M595.34 132.1V136.4"/><path class="g" d="M595.68 131.8V134.3"/><path class="g" d="M596.02 131.2V132.9"/><path class="r" d="M596.36 130.8V135.7"/><path class="r" d="M596.70 132.8V134.3"/><path class="g" d="M597.04 130.8V135.2"/><path class="r" d="M597.38 130.8V133.2"/><path class="r" d="M597.72 130.7V135.4"/><path class="g" d="M598.06 132.1V135.6"/><path class="r" d="M598.40 132.1V133.6"/><path class="g" d="M598.74 130.6V134.5"/><path class="g" d="M599.08 129.6V132.6"/><path class="r" d="M599.42 129.8V135.0"/><path class="r" d="M599.76 130.6V133.8"/><path class="g" d="M600.10 129.3V132.5"/><path class="r" d="M600.44 120.0V134.3"/><path class="g" d="M600.78 123.9V129.8"/><path class="g" d="M601.12 117.8V125.4"/></g>

<!-- vertical line drawing -->
<rect x="388" y="30" width="1.5" height="352" fill="#5a8aff"/>
<!-- horizontal lines -->
<path d="M58 119.3H721" stroke="#f23645" stroke-width="1" stroke-dasharray="2 2" opacity="0.45"/>

<!-- trend line -->
<path d="M388.7 242.6L609.2 99.3" stroke="#3366ff" stroke-width="1.45" fill="none"/>
<rect x="58" y="99.9" width="663" height="1.15" fill="#e65100"/>
<rect x="58" y="242" width="663" height="2" fill="#e65100" opacity="0.65"/>


<!-- pane 1 -->
<path d="M58.00 294.00V275.1H58.50V275.4H59.00V274.5H59.50V275.1H60.00V274.4H60.50V273.2H61.00V273.1H61.50V273.9H62.00V272.3H62.50V272.0H63.00V272.4H63.50V271.3H64.00V271.0H64.50V270.1H65.00V271.1H65.50V270.6H66.00V269.6H66.50V269.8H67.00V269.2H67.50V270.3H68.00V269.8H68.50V270.0H69.00V270.5H69.50V269.4H70.00V270.5H70.50V270.4H71.00V268.9H71.50V269.3H72.00V268.7H72.50V270.2H73.00V268.9H73.50V269.7H74.00V270.1H74.50V269.9H75.00V270.9H75.50V270.4H76.00V270.1H76.50V271.1H77.00V271.0H77.50V271.4H78.00V270.3H78.50V270.3H79.00V270.2H79.50V270.9H80.00V271.8H80.50V271.8H81.00V270.5H81.50V271.3H82.00V271.4H82.50V272.1H83.00V271.9H83.50V271.1H84.00V272.2H84.50V272.0H85.00V272.1H85.50V271.0H86.00V272.2H86.50V272.1H87.00V271.7H87.50V272.8H88.00V271.8H88.50V272.4H89.00V271.7H89.50V271.6H90.00V271.6H90.50V272.1H91.00V271.9H91.50V272.4H92.00V271.8H92.50V271.6H93.00V270.8H93.50V270.4H94.00V270.4H94.50V271.8H95.00V270.9H95.50V271.4H96.00V270.7H96.50V270.4H97.00V271.6H97.50V270.4H98.00V270.7H98.50V271.8H99.00V271.5H99.50V271.7H100.00V271.7H100.50V271.8H101.00V271.2H101.50V271.6H102.00V270.3H102.50V271.6H103.00V271.4H103.50V270.9H104.00V271.8H104.50V270.5H105.00V271.4H105.50V270.9H106.00V271.5H106.50V271.3H107.00V272.0H107.50V272.2H108.00V272.9H108.50V273.2H109.00V271.9H109.50V273.5H110.00V272.9H110.50V272.1H111.00V272.4H111.50V273.5H112.00V274.2H112.50V273.3H113.00V273.8H113.50V274.3H114.00V273.4H114.50V273.4H115.00V273.3H115.50V273.1H116.00V274.0H116.50V274.0H117.00V274.6H117.50V274.4H118.00V275.0H118.50V274.6H119.00V273.4H119.50V275.1H120.00V274.5H120.50V274.2H121.00V274.6H121.50V273.5H122.00V273.8H122.50V273.7H123.00V274.0H123.50V274.4H124.00V275.2H124.50V274.8H125.00V275.0H125.50V273.7H126.00V274.0H126.50V274.2H127.00V275.2H127.50V275.3H128.00V274.7H128.50V274.8H129.00V274.3H129.50V274.3H130.00V274.3H130.50V275.3H131.00V274.7H131.50V275.6H132.00V275.5H132.50V274.9H133.00V275.9H133.50V276.6H134.00V276.9H134.50V275.8H135.00V276.5H135.50V277.8H136.00V278.5H136.50V279.0H137.00V280.7H137.50V280.2H138.00V280.9H138.50V281.8H139.00V282.9H139.50V283.6H140.00V283.6H140.50V284.2H141.00V285.8H141.50V285.5H142.00V285.2H142.50V287.0H143.00V286.2H143.50V286.4H144.00V287.2H144.50V288.4H145.00V288.3H145.50V288.6H146.00V288.6H146.50V289.0H147.00V287.8H147.50V287.8H148.00V288.6H148.50V288.0H149.00V288.5H149.50V287.9H150.00V287.9H150.50V287.2H151.00V288.7H151.50V287.1H152.00V287.7H152.50V287.9H153.00V288.1H153.50V288.2H154.00V287.3H154.50V287.2H155.00V287.5H155.50V287.2H156.00V286.2H156.50V287.4H157.00V286.5H157.50V286.9H158.00V286.3H158.50V286.6H159.00V286.8H159.50V287.5H160.00V287.2H160.50V288.9H161.00V288.0H161.50V289.3H162.00V289.1H162.50V288.8H163.00V289.7H163.50V291.1H164.00V291.1H164.50V291.2H165.00V291.6H165.50V291.7H166.00V290.5H166.50V291.2H167.00V291.2H167.50V291.8H168.00V291.4H168.50V292.0H169.00V292.5H169.50V292.4H170.00V292.9H170.50V293.0H171.00V292.1H171.50V292.7H172.00V292.3H172.50V293.1H173.00V292.8H173.50V292.4H174.00V292.7H174.50V294.00ZM174.50 294.00V298.4H175.00V298.4H175.50V298.4H176.00V298.1H176.50V298.1H177.00V298.2H177.50V298.0H178.00V298.4H178.50V298.4H179.00V298.0H179.50V297.4H180.00V297.4H180.50V296.9H181.00V294.00ZM181.00 294.00V291.2H181.50V291.8H182.00V292.3H182.50V292.8H183.00V293.2H183.50V293.1H184.00V293.2H184.50V293.2H185.00V293.2H185.50V293.2H186.00V293.2H186.50V293.1H187.00V293.2H187.50V293.2H188.00V293.1H188.50V293.1H189.00V292.9H189.50V292.8H190.00V294.00ZM190.00 294.00V295.4H190.50V295.6H191.00V295.7H191.50V295.9H192.00V296.0H192.50V296.0H193.00V295.9H193.50V296.1H194.00V296.2H194.50V296.2H195.00V296.1H195.50V296.2H196.00V296.2H196.50V296.2H197.00V296.2H197.50V296.2H198.00V296.3H198.50V296.2H199.00V296.1H199.50V296.2H200.00V296.2H200.50V296.2H201.00V296.2H201.50V296.2H202.00V296.0H202.50V295.9H203.00V296.0H203.50V296.0H204.00V296.0H204.50V295.9H205.00V295.8H205.50V295.7H206.00V295.5H206.50V295.5H207.00V294.00ZM207.00 294.00V292.6H207.50V292.8H208.00V293.0H208.50V293.2H209.00V293.2H209.50V293.2H210.00V293.2H210.50V293.1H211.00V293.1H211.50V293.2H212.00V293.2H212.50V293.1H213.00V293.2H213.50V293.3H214.00V293.1H214.50V293.2H215.00V293.2H215.50V293.2H216.00V293.1H216.50V293.1H217.00V292.9H217.50V292.9H218.00V292.8H218.50V292.6H219.00V292.6H219.50V292.7H220.00V292.4H220.50V292.5H221.00V292.4H221.50V292.5H222.00V292.4H222.50V292.4H223.00V292.5H223.50V292.5H224.00V292.5H224.50V292.6H225.00V292.7H225.50V292.7H226.00V292.9H226.50V292.8H227.00V293.0H227.50V292.9H228.00V293.0H228.50V293.0H229.00V293.1H229.50V293.1H230.00V293.1H230.50V293.2H231.00V293.1H231.50V293.1H232.00V293.0H232.50V293.1H233.00V293.0H233.50V293.0H234.00V293.0H234.50V293.0H235.00V292.9H235.50V293.0H236.00V293.0H236.50V293.1H237.00V293.0H237.50V293.0H238.00V293.0H238.50V293.0H239.00V293.0H239.50V293.1H240.00V293.1H240.50V293.1H241.00V293.1H241.50V293.1H242.00V293.1H242.50V293.1H243.00V293.1H243.50V293.1H244.00V293.1H244.50V293.1H245.00V293.2H245.50V293.1H246.00V293.2H246.50V293.1H247.00V293.1H247.50V293.1H248.00V292.9H248.50V292.8H249.00V294.00ZM249.00 294.00V295.4H249.50V295.7H250.00V295.8H250.50V295.9H251.00V295.9H251.50V295.9H252.00V296.0H252.50V296.0H253.00V295.9H253.50V295.8H254.00V295.8H254.50V295.8H255.00V294.00ZM255.00 294.00V292.4H255.50V292.3H256.00V292.2H256.50V292.1H257.00V292.1H257.50V292.2H258.00V292.2H258.50V292.0H259.00V292.2H259.50V292.1H260.00V292.2H260.50V292.1H261.00V292.2H261.50V292.2H262.00V292.1H262.50V292.0H263.00V292.2H263.50V292.1H264.00V292.1H264.50V292.1H265.00V292.2H265.50V292.4H266.00V292.5H266.50V292.7H267.00V292.8H267.50V292.9H268.00V293.0H268.50V293.1H269.00V293.3H269.50V293.3H270.00V293.3H270.50V293.3H271.00V293.3H271.50V293.3H272.00V293.3H272.50V293.3H273.00V293.3H273.50V293.2H274.00V293.3H274.50V293.2H275.00V293.3H275.50V293.2H276.00V293.2H276.50V293.3H277.00V293.3H277.50V293.3H278.00V293.3H278.50V293.3H279.00V293.3H279.50V293.3H280.00V293.4H280.50V293.3H281.00V293.4H281.50V293.3H282.00V293.4H282.50V293.3H283.00V293.3H283.50V293.3H284.00V293.3H284.50V293.3H285.00V293.3H285.50V293.2H286.00V293.2H286.50V293.2H287.00V293.2H287.50V293.2H288.00V293.3H288.50V293.3H289.00V293.3H289.50V293.3H290.00V293.3H290.50V293.3H291.00V293.3H291.50V293.3H292.00V293.2H292.50V293.2H293.00V293.2H293.50V293.0H294.00V292.9H294.50V292.6H295.00V294.00ZM295.00 294.00V295.5H295.50V295.7H296.00V296.0H296.50V296.2H297.00V296.1H297.50V296.2H298.00V296.3H298.50V296.2H299.00V296.4H299.50V296.3H300.00V296.3H300.50V296.4H301.00V296.3H301.50V296.2H302.00V296.3H302.50V296.4H303.00V296.3H303.50V296.3H304.00V296.3H304.50V296.4H305.00V296.4H305.50V296.4H306.00V296.6H306.50V296.6H307.00V296.5H307.50V296.6H308.00V296.4H308.50V296.5H309.00V296.7H309.50V296.7H310.00V296.8H310.50V296.8H311.00V297.0H311.50V297.0H312.00V297.3H312.50V297.5H313.00V297.3H313.50V297.6H314.00V298.0H314.50V298.0H315.00V297.9H315.50V297.6H316.00V297.9H316.50V297.9H317.00V297.8H317.50V297.8H318.00V297.8H318.50V297.9H319.00V298.1H319.50V297.8H320.00V298.1H320.50V297.8H321.00V298.1H321.50V297.6H322.00V297.6H322.50V297.9H323.00V297.9H323.50V297.9H324.00V297.7H324.50V297.6H325.00V297.8H325.50V297.6H326.00V297.8H326.50V297.6H327.00V297.8H327.50V297.5H328.00V297.7H328.50V297.8H329.00V297.7H329.50V297.8H330.00V297.8H330.50V298.0H331.00V297.8H331.50V297.9H332.00V298.0H332.50V298.3H333.00V298.3H333.50V298.1H334.00V298.0H334.50V298.0H335.00V297.9H335.50V297.9H336.00V297.9H336.50V298.1H337.00V297.7H337.50V298.0H338.00V297.6H338.50V297.2H339.00V296.9H339.50V296.5H340.00V294.00ZM340.00 294.00V291.7H340.50V292.3H341.00V292.4H341.50V292.8H342.00V293.2H342.50V293.1H343.00V293.2H343.50V293.2H344.00V293.2H344.50V293.1H345.00V293.1H345.50V293.2H346.00V293.2H346.50V293.2H347.00V293.2H347.50V293.1H348.00V293.1H348.50V293.0H349.00V292.9H349.50V292.8H350.00V292.6H350.50V292.6H351.00V292.6H351.50V292.4H352.00V292.4H352.50V292.3H353.00V292.5H353.50V292.3H354.00V292.4H354.50V292.4H355.00V292.4H355.50V292.3H356.00V292.3H356.50V292.3H357.00V292.4H357.50V292.3H358.00V292.3H358.50V292.4H359.00V292.3H359.50V292.3H360.00V292.4H360.50V292.6H361.00V292.7H361.50V292.6H362.00V292.8H362.50V292.9H363.00V292.8H363.50V292.7H364.00V292.6H364.50V292.5H365.00V292.5H365.50V292.3H366.00V292.0H366.50V292.0H367.00V291.7H367.50V291.8H368.00V291.7H368.50V291.9H369.00V291.8H369.50V291.7H370.00V291.7H370.50V291.8H371.00V291.9H371.50V291.9H372.00V291.8H372.50V291.9H373.00V292.2H373.50V292.1H374.00V292.3H374.50V292.5H375.00V294.00ZM375.00 294.00V295.2H375.50V295.2H376.00V294.9H376.50V295.0H377.00V294.8H377.50V294.9H378.00V294.9H378.50V294.8H379.00V295.2H379.50V295.7H380.00V296.0H380.50V296.4H381.00V296.8H381.50V297.0H382.00V297.4H382.50V297.7H383.00V297.9H383.50V298.2H384.00V297.9H384.50V298.0H385.00V298.4H385.50V299.1H386.00V298.6H386.50V298.7H387.00V298.6H387.50V298.8H388.00V298.5H388.50V298.2H389.00V298.1H389.50V297.7H390.00V297.6H390.50V297.7H391.00V297.5H391.50V297.3H392.00V297.5H392.50V297.3H393.00V297.3H393.50V297.4H394.00V297.0H394.50V297.0H395.00V296.7H395.50V296.8H396.00V296.7H396.50V296.7H397.00V296.6H397.50V296.7H398.00V296.6H398.50V296.7H399.00V296.8H399.50V296.6H400.00V296.6H400.50V296.6H401.00V296.7H401.50V296.7H402.00V296.6H402.50V296.8H403.00V296.6H403.50V296.7H404.00V296.7H404.50V296.7H405.00V296.7H405.50V296.7H406.00V296.6H406.50V296.9H407.00V296.6H407.50V296.6H408.00V296.6H408.50V296.7H409.00V296.9H409.50V296.8H410.00V296.5H410.50V296.8H411.00V296.7H411.50V296.7H412.00V296.6H412.50V296.6H413.00V296.8H413.50V296.9H414.00V296.7H414.50V296.8H415.00V296.8H415.50V296.6H416.00V296.7H416.50V296.8H417.00V296.5H417.50V296.8H418.00V296.6H418.50V296.3H419.00V296.4H419.50V296.3H420.00V296.2H420.50V296.1H421.00V295.9H421.50V296.0H422.00V295.8H422.50V295.9H423.00V295.8H423.50V295.8H424.00V295.7H424.50V295.7H425.00V295.7H425.50V295.7H426.00V295.7H426.50V295.6H427.00V295.4H427.50V295.4H428.00V294.00ZM428.00 294.00V292.4H428.50V292.7H429.00V293.0H429.50V293.2H430.00V293.4H430.50V293.3H431.00V293.2H431.50V293.1H432.00V293.2H432.50V293.2H433.00V293.2H433.50V293.2H434.00V293.1H434.50V293.2H435.00V293.0H435.50V292.9H436.00V292.8H436.50V292.7H437.00V294.00ZM437.00 294.00V295.3H437.50V295.6H438.00V295.7H438.50V295.9H439.00V295.9H439.50V296.1H440.00V296.0H440.50V296.1H441.00V296.0H441.50V296.0H442.00V295.9H442.50V296.1H443.00V296.1H443.50V295.9H444.00V296.1H444.50V296.1H445.00V296.1H445.50V296.1H446.00V296.0H446.50V296.0H447.00V296.0H447.50V296.1H448.00V296.0H448.50V295.9H449.00V295.9H449.50V296.0H450.00V296.1H450.50V296.0H451.00V295.9H451.50V295.9H452.00V296.3H452.50V296.2H453.00V296.5H453.50V296.6H454.00V296.8H454.50V297.0H455.00V297.1H455.50V297.0H456.00V297.3H456.50V297.4H457.00V297.4H457.50V297.2H458.00V297.4H458.50V297.2H459.00V297.3H459.50V297.3H460.00V297.3H460.50V297.2H461.00V297.2H461.50V297.3H462.00V297.4H462.50V297.2H463.00V297.6H463.50V297.6H464.00V297.6H464.50V297.1H465.00V297.2H465.50V297.1H466.00V297.3H466.50V297.4H467.00V297.5H467.50V297.6H468.00V297.2H468.50V297.6H469.00V297.5H469.50V297.4H470.00V297.3H470.50V297.3H471.00V297.4H471.50V297.1H472.00V297.0H472.50V296.6H473.00V296.4H473.50V296.1H474.00V295.8H474.50V295.4H475.00V295.2H475.50V294.9H476.00V294.7H476.50V294.7H477.00V294.7H477.50V294.7H478.00V294.7H478.50V294.8H479.00V294.8H479.50V294.8H480.00V294.9H480.50V294.8H481.00V294.8H481.50V294.7H482.00V294.8H482.50V294.8H483.00V294.9H483.50V295.1H484.00V295.2H484.50V295.4H485.00V294.00ZM485.00 294.00V292.5H485.50V292.4H486.00V292.2H486.50V292.0H487.00V291.9H487.50V292.0H488.00V292.0H488.50V292.0H489.00V291.8H489.50V291.9H490.00V291.9H490.50V292.1H491.00V291.8H491.50V292.0H492.00V292.0H492.50V292.0H493.00V291.8H493.50V292.0H494.00V292.0H494.50V291.8H495.00V291.9H495.50V292.1H496.00V292.0H496.50V292.0H497.00V291.9H497.50V291.9H498.00V292.0H498.50V291.9H499.00V292.0H499.50V292.0H500.00V292.0H500.50V292.0H501.00V292.0H501.50V292.1H502.00V292.0H502.50V291.8H503.00V291.9H503.50V292.0H504.00V291.8H504.50V292.0H505.00V292.1H505.50V292.1H506.00V292.1H506.50V291.9H507.00V292.1H507.50V292.0H508.00V292.0H508.50V292.0H509.00V292.1H509.50V292.4H510.00V292.5H510.50V292.6H511.00V292.7H511.50V292.7H512.00V292.9H512.50V293.1H513.00V293.1H513.50V293.2H514.00V293.1H514.50V293.1H515.00V293.2H515.50V293.2H516.00V293.2H516.50V293.2H517.00V293.3H517.50V293.3H518.00V293.3H518.50V293.2H519.00V293.2H519.50V293.2H520.00V293.2H520.50V293.2H521.00V293.2H521.50V293.2H522.00V293.2H522.50V293.2H523.00V293.2H523.50V293.2H524.00V293.2H524.50V293.2H525.00V293.2H525.50V293.2H526.00V293.2H526.50V293.2H527.00V293.2H527.50V293.3H528.00V293.2H528.50V293.2H529.00V293.2H529.50V293.2H530.00V293.2H530.50V293.1H531.00V293.1H531.50V293.2H532.00V293.2H532.50V293.1H533.00V293.1H533.50V293.1H534.00V293.0H534.50V293.1H535.00V293.1H535.50V293.0H536.00V293.1H536.50V293.1H537.00V293.2H537.50V293.1H538.00V293.2H538.50V293.2H539.00V293.1H539.50V292.9H540.00V292.7H540.50V292.5H541.00V292.2H541.50V292.2H542.00V291.8H542.50V291.7H543.00V291.4H543.50V291.3H544.00V291.5H544.50V291.6H545.00V291.3H545.50V291.4H546.00V291.3H546.50V291.3H547.00V291.5H547.50V291.5H548.00V291.4H548.50V291.3H549.00V291.0H549.50V290.9H550.00V291.2H550.50V290.9H551.00V290.9H551.50V290.9H552.00V291.2H552.50V291.0H553.00V291.0H553.50V291.1H554.00V290.9H554.50V291.2H555.00V291.2H555.50V291.2H556.00V291.0H556.50V291.2H557.00V291.0H557.50V291.3H558.00V290.9H558.50V291.1H559.00V290.9H559.50V291.0H560.00V291.1H560.50V291.0H561.00V291.1H561.50V291.1H562.00V290.9H562.50V291.0H563.00V291.2H563.50V291.0H564.00V291.1H564.50V290.9H565.00V291.0H565.50V291.2H566.00V291.1H566.50V291.0H567.00V291.0H567.50V291.2H568.00V291.0H568.50V291.2H569.00V291.0H569.50V291.0H570.00V290.9H570.50V290.6H571.00V290.7H571.50V290.6H572.00V290.2H572.50V290.1H573.00V289.7H573.50V289.7H574.00V289.7H574.50V289.2H575.00V289.6H575.50V289.6H576.00V289.3H576.50V289.4H577.00V289.5H577.50V289.8H578.00V289.8H578.50V289.5H579.00V289.9H579.50V289.8H580.00V290.2H580.50V290.0H581.00V290.1H581.50V289.9H582.00V290.4H582.50V290.2H583.00V290.1H583.50V290.2H584.00V290.0H584.50V290.2H585.00V290.3H585.50V290.3H586.00V290.4H586.50V290.0H587.00V290.3H587.50V290.1H588.00V290.3H588.50V290.0H589.00V289.8H589.50V289.3H590.00V288.6H590.50V288.1H591.00V287.7H591.50V287.6H592.00V286.9H592.50V286.6H593.00V286.7H593.50V286.7H594.00V287.4H594.50V286.9H595.00V287.3H595.50V286.5H596.00V286.6H596.50V286.8H597.00V287.0H597.50V287.2H598.00V286.8H598.50V285.8H599.00V285.6H599.50V285.3H600.00V285.4H600.50V285.7H601.00V285.4H601.50V285.4H602.00V294.00Z" fill="#ff3b3b"/>
<path d="M58.00 294.00V309.2H58.50V311.5H59.00V309.4H59.50V311.8H60.00V312.8H60.50V310.2H61.00V310.4H61.50V312.7H62.00V311.5H62.50V313.3H63.00V314.8H63.50V315.2H64.00V313.8H64.50V313.7H65.00V316.6H65.50V314.4H66.00V314.8H66.50V317.1H67.00V316.9H67.50V315.7H68.00V318.6H68.50V318.0H69.00V318.9H69.50V318.7H70.00V320.0H70.50V318.4H71.00V316.6H71.50V317.7H72.00V317.4H72.50V315.9H73.00V316.2H73.50V315.2H74.00V314.8H74.50V315.0H75.00V314.6H75.50V312.5H76.00V312.2H76.50V313.7H77.00V313.6H77.50V313.1H78.00V313.1H78.50V312.5H79.00V313.1H79.50V311.1H80.00V310.0H80.50V311.6H81.00V311.1H81.50V311.1H82.00V309.1H82.50V307.5H83.00V307.0H83.50V306.6H84.00V307.1H84.50V306.0H85.00V307.5H85.50V307.3H86.00V306.7H86.50V307.1H87.00V309.5H87.50V310.0H88.00V308.9H88.50V309.7H89.00V310.3H89.50V310.9H90.00V308.5H90.50V308.8H91.00V308.8H91.50V310.7H92.00V309.8H92.50V310.9H93.00V312.7H93.50V312.0H94.00V313.6H94.50V311.3H95.00V313.1H95.50V314.3H96.00V315.3H96.50V313.1H97.00V313.4H97.50V315.0H98.00V314.0H98.50V314.9H99.00V314.1H99.50V314.0H100.00V315.2H100.50V315.6H101.00V314.8H101.50V314.4H102.00V315.9H102.50V315.1H103.00V313.6H103.50V315.4H104.00V315.7H104.50V314.6H105.00V313.4H105.50V312.3H106.00V313.1H106.50V312.4H107.00V313.3H107.50V311.1H108.00V311.4H108.50V313.1H109.00V311.5H109.50V310.5H110.00V310.0H110.50V309.3H111.00V309.4H111.50V310.2H112.00V310.4H112.50V311.1H113.00V309.7H113.50V310.0H114.00V309.7H114.50V310.7H115.00V310.6H115.50V307.4H116.00V307.9H116.50V307.5H117.00V309.1H117.50V310.0H118.00V309.5H118.50V307.6H119.00V309.2H119.50V309.1H120.00V308.3H120.50V311.5H121.00V311.5H121.50V309.7H122.00V312.0H122.50V312.6H123.00V312.7H123.50V311.1H124.00V311.6H124.50V310.8H125.00V314.0H125.50V313.5H126.00V311.8H126.50V313.7H127.00V315.0H127.50V313.6H128.00V311.8H128.50V312.8H129.00V313.7H129.50V311.0H130.00V310.8H130.50V312.7H131.00V311.5H131.50V311.4H132.00V311.1H132.50V309.3H133.00V309.6H133.50V309.4H134.00V308.5H134.50V308.3H135.00V306.8H135.50V305.4H136.00V306.3H136.50V304.2H137.00V303.8H137.50V301.8H138.00V302.3H138.50V303.0H139.00V301.6H139.50V303.2H140.00V300.4H140.50V300.6H141.00V301.5H141.50V299.5H142.00V298.9H142.50V300.2H143.00V299.7H143.50V298.9H144.00V297.2H144.50V298.8H145.00V296.6H145.50V297.1H146.00V295.6H146.50V294.9H147.00V296.1H147.50V295.2H148.00V298.3H148.50V296.1H149.00V296.1H149.50V297.8H150.00V296.2H150.50V297.6H151.00V299.0H151.50V297.8H152.00V296.9H152.50V298.0H153.00V297.5H153.50V299.3H154.00V297.3H154.50V297.4H155.00V299.3H155.50V300.3H156.00V299.6H156.50V297.8H157.00V297.8H157.50V300.1H158.00V300.1H158.50V300.0H159.00V300.7H159.50V297.4H160.00V299.6H160.50V299.1H161.00V299.7H161.50V297.1H162.00V298.7H162.50V296.5H163.00V299.0H163.50V297.0H164.00V298.2H164.50V297.4H165.00V297.3H165.50V296.8H166.00V296.4H166.50V295.6H167.00V295.9H167.50V294.7H168.00V295.4H168.50V294.9H169.00V293.9H169.50V293.9H170.00V295.2H170.50V294.5H171.00V295.7H171.50V293.9H172.00V293.9H172.50V295.1H173.00V294.8H173.50V293.8H174.00V293.3H174.50V294.00ZM174.50 294.00V289.0H175.00V289.4H175.50V289.5H176.00V289.1H176.50V288.9H177.00V289.0H177.50V289.4H178.00V288.7H178.50V289.1H179.00V289.3H179.50V289.9H180.00V290.3H180.50V290.8H181.00V294.00ZM181.00 294.00V296.3H181.50V296.1H182.00V295.8H182.50V295.3H183.00V294.9H183.50V294.9H184.00V294.9H184.50V294.9H185.00V294.8H185.50V294.8H186.00V294.9H186.50V294.8H187.00V294.8H187.50V294.8H188.00V294.9H188.50V295.0H189.00V295.3H189.50V295.3H190.00V294.00ZM190.00 294.00V292.6H190.50V292.6H191.00V292.3H191.50V292.3H192.00V292.2H192.50V292.1H193.00V292.1H193.50V292.3H194.00V292.2H194.50V292.3H195.00V292.2H195.50V292.4H196.00V292.2H196.50V292.3H197.00V292.2H197.50V292.3H198.00V292.2H198.50V292.1H199.00V292.2H199.50V292.1H200.00V292.2H200.50V292.0H201.00V292.1H201.50V292.2H202.00V292.3H202.50V292.1H203.00V292.3H203.50V292.1H204.00V292.1H204.50V292.3H205.00V292.4H205.50V292.5H206.00V292.5H206.50V292.5H207.00V294.00ZM207.00 294.00V295.3H207.50V295.2H208.00V295.1H208.50V294.9H209.00V294.9H209.50V294.8H210.00V294.8H210.50V294.7H211.00V294.8H211.50V294.8H212.00V294.9H212.50V294.9H213.00V294.9H213.50V294.8H214.00V294.9H214.50V294.8H215.00V294.9H215.50V294.8H216.00V294.9H216.50V295.1H217.00V295.1H217.50V295.1H218.00V295.2H218.50V295.3H219.00V295.3H219.50V295.4H220.00V295.7H220.50V295.5H221.00V295.6H221.50V295.6H222.00V295.7H222.50V295.8H223.00V295.7H223.50V295.6H224.00V295.4H224.50V295.3H225.00V295.2H225.50V295.1H226.00V295.0H226.50V295.0H227.00V294.9H227.50V294.9H228.00V295.0H228.50V294.9H229.00V294.9H229.50V294.9H230.00V294.9H230.50V294.8H231.00V294.8H231.50V294.9H232.00V294.9H232.50V294.9H233.00V294.9H233.50V295.0H234.00V294.9H234.50V295.0H235.00V295.0H235.50V294.9H236.00V294.9H236.50V295.0H237.00V295.0H237.50V295.0H238.00V294.9H238.50V294.8H239.00V294.9H239.50V294.9H240.00V295.0H240.50V294.8H241.00V294.8H241.50V294.9H242.00V294.8H242.50V294.9H243.00V294.9H243.50V294.9H244.00V295.0H244.50V294.9H245.00V294.9H245.50V294.9H246.00V295.0H246.50V294.9H247.00V295.1H247.50V295.2H248.00V295.3H248.50V295.4H249.00V294.00ZM249.00 294.00V292.7H249.50V292.7H250.00V292.4H250.50V292.4H251.00V292.3H251.50V292.3H252.00V292.2H252.50V292.3H253.00V292.3H253.50V292.3H254.00V292.3H254.50V292.2H255.00V294.00ZM255.00 294.00V295.9H255.50V296.0H256.00V296.1H256.50V295.9H257.00V295.9H257.50V295.9H258.00V295.9H258.50V296.0H259.00V295.9H259.50V295.9H260.00V295.9H260.50V296.0H261.00V296.0H261.50V296.0H262.00V295.9H262.50V295.9H263.00V295.9H263.50V296.1H264.00V295.9H264.50V295.9H265.00V295.8H265.50V295.5H266.00V295.5H266.50V295.4H267.00V295.3H267.50V295.1H268.00V295.0H268.50V294.9H269.00V294.8H269.50V294.8H270.00V294.8H270.50V294.7H271.00V294.8H271.50V294.7H272.00V294.7H272.50V294.7H273.00V294.7H273.50V294.7H274.00V294.7H274.50V294.8H275.00V294.7H275.50V294.7H276.00V294.7H276.50V294.7H277.00V294.7H277.50V294.7H278.00V294.7H278.50V294.8H279.00V294.7H279.50V294.7H280.00V294.8H280.50V294.8H281.00V294.8H281.50V294.8H282.00V294.8H282.50V294.7H283.00V294.7H283.50V294.7H284.00V294.7H284.50V294.7H285.00V294.7H285.50V294.7H286.00V294.6H286.50V294.7H287.00V294.7H287.50V294.7H288.00V294.7H288.50V294.7H289.00V294.8H289.50V294.8H290.00V294.7H290.50V294.7H291.00V294.8H291.50V294.7H292.00V294.7H292.50V294.7H293.00V295.0H293.50V295.0H294.00V295.2H294.50V295.4H295.00V294.00ZM295.00 294.00V292.5H295.50V292.3H296.00V292.2H296.50V291.9H297.00V291.6H297.50V291.7H298.00V291.7H298.50V291.4H299.00V291.6H299.50V291.4H300.00V291.6H300.50V291.5H301.00V291.6H301.50V291.4H302.00V291.5H302.50V291.6H303.00V291.5H303.50V291.5H304.00V291.8H304.50V291.8H305.00V291.5H305.50V291.6H306.00V291.6H306.50V291.7H307.00V291.6H307.50V291.4H308.00V291.6H308.50V291.6H309.00V291.5H309.50V291.4H310.00V291.6H310.50V291.3H311.00V291.1H311.50V291.3H312.00V291.2H312.50V290.9H313.00V291.0H313.50V290.4H314.00V290.5H314.50V290.6H315.00V290.2H315.50V290.2H316.00V290.2H316.50V290.0H317.00V290.4H317.50V290.0H318.00V290.3H318.50V289.9H319.00V290.2H319.50V290.0H320.00V290.0H320.50V290.2H321.00V290.1H321.50V290.1H322.00V290.3H322.50V290.4H323.00V290.7H323.50V290.6H324.00V290.4H324.50V290.5H325.00V290.7H325.50V290.6H326.00V290.4H326.50V290.6H327.00V290.4H327.50V290.3H328.00V290.7H328.50V290.7H329.00V290.3H329.50V290.4H330.00V290.6H330.50V290.3H331.00V290.3H331.50V290.5H332.00V290.6H332.50V290.4H333.00V290.5H333.50V290.5H334.00V290.5H334.50V290.1H335.00V290.6H335.50V290.5H336.00V290.3H336.50V290.1H337.00V290.4H337.50V290.1H338.00V290.4H338.50V291.1H339.00V291.1H339.50V291.7H340.00V294.00ZM340.00 294.00V296.3H340.50V295.9H341.00V295.6H341.50V295.2H342.00V294.8H342.50V294.8H343.00V294.8H343.50V294.8H344.00V294.8H344.50V294.9H345.00V294.8H345.50V294.8H346.00V294.8H346.50V294.8H347.00V294.9H347.50V294.9H348.00V294.9H348.50V295.0H349.00V295.0H349.50V295.1H350.00V295.2H350.50V295.3H351.00V295.4H351.50V295.4H352.00V295.5H352.50V295.5H353.00V295.6H353.50V295.5H354.00V295.6H354.50V295.6H355.00V295.5H355.50V295.7H356.00V295.6H356.50V295.7H357.00V295.8H357.50V295.6H358.00V295.6H358.50V295.8H359.00V295.7H359.50V295.7H360.00V295.6H360.50V295.4H361.00V295.4H361.50V295.3H362.00V295.2H362.50V295.1H363.00V295.1H363.50V295.0H364.00V295.0H364.50V295.2H365.00V295.3H365.50V295.3H366.00V295.5H366.50V295.6H367.00V295.6H367.50V295.7H368.00V295.7H368.50V295.7H369.00V295.7H369.50V295.9H370.00V295.7H370.50V295.7H371.00V295.7H371.50V295.9H372.00V295.7H372.50V295.9H373.00V295.7H373.50V295.4H374.00V295.4H374.50V295.3H375.00V294.00ZM375.00 294.00V292.6H375.50V292.7H376.00V292.9H376.50V293.0H377.00V293.2H377.50V293.2H378.00V293.2H378.50V293.1H379.00V292.6H379.50V292.3H380.00V292.0H380.50V291.4H381.00V291.0H381.50V290.7H382.00V290.3H382.50V289.9H383.00V289.9H383.50V289.8H384.00V289.4H384.50V289.0H385.00V289.1H385.50V288.7H386.00V288.4H386.50V288.1H387.00V288.4H387.50V288.5H388.00V288.6H388.50V288.5H389.00V289.1H389.50V289.2H390.00V289.9H390.50V289.9H391.00V289.9H391.50V289.9H392.00V289.6H392.50V289.6H393.00V289.8H393.50V290.0H394.00V290.2H394.50V290.3H395.00V290.4H395.50V290.6H396.00V290.7H396.50V291.2H397.00V291.3H397.50V291.3H398.00V291.3H398.50V291.4H399.00V291.3H399.50V291.4H400.00V291.5H400.50V291.5H401.00V291.3H401.50V291.2H402.00V291.4H402.50V291.4H403.00V291.2H403.50V291.1H404.00V291.2H404.50V291.1H405.00V291.4H405.50V291.1H406.00V291.2H406.50V291.2H407.00V291.4H407.50V291.3H408.00V291.5H408.50V291.3H409.00V291.2H409.50V291.3H410.00V291.3H410.50V291.4H411.00V291.2H411.50V291.4H412.00V291.4H412.50V291.4H413.00V291.6H413.50V291.4H414.00V291.5H414.50V291.5H415.00V291.6H415.50V291.4H416.00V291.5H416.50V291.4H417.00V291.5H417.50V291.5H418.00V291.5H418.50V291.6H419.00V291.4H419.50V291.6H420.00V291.4H420.50V291.6H421.00V291.6H421.50V291.5H422.00V291.7H422.50V291.7H423.00V291.5H423.50V291.6H424.00V291.7H424.50V291.5H425.00V291.5H425.50V291.7H426.00V291.7H426.50V291.8H427.00V292.1H427.50V292.2H428.00V294.00ZM428.00 294.00V295.2H428.50V295.1H429.00V295.0H429.50V294.9H430.00V294.8H430.50V294.8H431.00V294.8H431.50V294.7H432.00V294.7H432.50V294.7H433.00V294.7H433.50V294.8H434.00V294.7H434.50V294.7H435.00V294.8H435.50V294.9H436.00V295.2H436.50V295.3H437.00V294.00ZM437.00 294.00V292.5H437.50V292.5H438.00V292.3H438.50V292.2H439.00V292.1H439.50V291.9H440.00V292.0H440.50V292.0H441.00V292.0H441.50V292.1H442.00V292.0H442.50V292.0H443.00V292.0H443.50V292.0H444.00V292.1H444.50V291.9H445.00V292.1H445.50V291.9H446.00V291.9H446.50V292.0H447.00V291.9H447.50V292.1H448.00V292.1H448.50V292.1H449.00V292.0H449.50V292.0H450.00V292.1H450.50V292.1H451.00V291.9H451.50V292.1H452.00V292.0H452.50V291.7H453.00V291.6H453.50V291.5H454.00V291.2H454.50V291.3H455.00V291.2H455.50V290.8H456.00V290.8H456.50V290.7H457.00V290.6H457.50V291.0H458.00V290.8H458.50V291.0H459.00V290.9H459.50V290.7H460.00V290.7H460.50V290.8H461.00V290.8H461.50V290.7H462.00V290.8H462.50V290.8H463.00V290.5H463.50V290.7H464.00V290.8H464.50V290.8H465.00V290.5H465.50V290.5H466.00V290.8H466.50V290.9H467.00V290.8H467.50V290.7H468.00V290.6H468.50V290.6H469.00V290.8H469.50V291.0H470.00V290.9H470.50V290.7H471.00V290.6H471.50V290.6H472.00V290.8H472.50V291.2H473.00V291.4H473.50V291.6H474.00V292.1H474.50V292.3H475.00V292.6H475.50V292.9H476.00V293.2H476.50V293.2H477.00V293.3H477.50V293.3H478.00V293.4H478.50V293.3H479.00V293.3H479.50V293.3H480.00V293.4H480.50V293.3H481.00V293.3H481.50V293.3H482.00V293.3H482.50V293.3H483.00V293.1H483.50V292.9H484.00V292.8H484.50V292.6H485.00V294.00ZM485.00 294.00V295.7H485.50V295.9H486.00V296.2H486.50V296.2H487.00V296.4H487.50V296.4H488.00V296.3H488.50V296.5H489.00V296.5H489.50V296.5H490.00V296.5H490.50V296.4H491.00V296.4H491.50V296.3H492.00V296.6H492.50V296.5H493.00V296.6H493.50V296.6H494.00V296.4H494.50V296.5H495.00V296.3H495.50V296.3H496.00V296.5H496.50V296.5H497.00V296.3H497.50V296.3H498.00V296.2H498.50V296.5H499.00V296.5H499.50V296.3H500.00V296.5H500.50V296.3H501.00V296.4H501.50V296.3H502.00V296.3H502.50V296.4H503.00V296.6H503.50V296.6H504.00V296.6H504.50V296.8H505.00V296.8H505.50V296.7H506.00V296.8H506.50V296.8H507.00V296.9H507.50V296.8H508.00V296.6H508.50V296.9H509.00V296.6H509.50V296.3H510.00V296.1H510.50V295.9H511.00V295.7H511.50V295.4H512.00V295.2H512.50V295.1H513.00V294.8H513.50V294.9H514.00V294.9H514.50V294.8H515.00V294.8H515.50V294.8H516.00V294.8H516.50V294.8H517.00V294.8H517.50V294.8H518.00V294.9H518.50V294.8H519.00V294.9H519.50V294.8H520.00V294.8H520.50V294.9H521.00V294.9H521.50V294.8H522.00V294.9H522.50V294.9H523.00V294.9H523.50V294.9H524.00V294.9H524.50V294.9H525.00V294.9H525.50V294.8H526.00V294.8H526.50V294.8H527.00V294.8H527.50V294.7H528.00V294.9H528.50V294.8H529.00V294.8H529.50V294.8H530.00V294.9H530.50V294.8H531.00V294.8H531.50V294.8H532.00V294.8H532.50V294.8H533.00V294.8H533.50V294.8H534.00V294.7H534.50V294.8H535.00V294.8H535.50V294.8H536.00V294.8H536.50V294.8H537.00V294.9H537.50V294.9H538.00V294.8H538.50V294.8H539.00V295.1H539.50V295.2H540.00V295.5H540.50V295.6H541.00V295.8H541.50V296.1H542.00V296.3H542.50V296.3H543.00V296.5H543.50V296.7H544.00V296.5H544.50V296.6H545.00V296.5H545.50V296.5H546.00V296.8H546.50V296.8H547.00V296.6H547.50V296.7H548.00V296.6H548.50V296.9H549.00V296.7H549.50V296.7H550.00V296.9H550.50V296.8H551.00V296.9H551.50V296.9H552.00V296.8H552.50V297.0H553.00V296.8H553.50V296.9H554.00V297.1H554.50V297.0H555.00V296.9H555.50V297.0H556.00V297.0H556.50V296.8H557.00V297.0H557.50V297.1H558.00V296.9H558.50V297.0H559.00V297.0H559.50V297.1H560.00V296.8H560.50V296.9H561.00V296.9H561.50V296.8H562.00V297.1H562.50V297.0H563.00V296.9H563.50V297.0H564.00V296.8H564.50V297.0H565.00V296.9H565.50V296.9H566.00V297.1H566.50V297.0H567.00V297.0H567.50V297.1H568.00V297.0H568.50V296.8H569.00V297.0H569.50V296.8H570.00V297.3H570.50V297.5H571.00V297.7H571.50V297.8H572.00V297.7H572.50V298.2H573.00V298.1H573.50V298.6H574.00V298.8H574.50V298.5H575.00V298.4H575.50V298.5H576.00V298.8H576.50V298.8H577.00V298.6H577.50V298.4H578.00V298.2H578.50V298.1H579.00V298.2H579.50V297.9H580.00V298.2H580.50V297.8H581.00V297.8H581.50V297.6H582.00V297.6H582.50V298.0H583.00V297.5H583.50V297.6H584.00V297.8H584.50V297.6H585.00V297.7H585.50V297.7H586.00V297.7H586.50V297.6H587.00V297.8H587.50V297.8H588.00V297.8H588.50V298.2H589.00V298.3H589.50V298.8H590.00V298.9H590.50V299.3H591.00V300.4H591.50V300.7H592.00V300.8H592.50V300.8H593.00V301.4H593.50V300.9H594.00V301.3H594.50V301.5H595.00V301.4H595.50V301.1H596.00V301.8H596.50V301.2H597.00V301.2H597.50V300.8H598.00V301.2H598.50V301.6H599.00V302.1H599.50V302.7H600.00V302.3H600.50V302.6H601.00V303.2H601.50V303.3H602.00V294.00Z" fill="#3b3bff"/>
<rect x="64.80" y="262" width="0.6" height="60" fill="#fff" opacity="0.22"/><rect x="71.10" y="262" width="0.6" height="60" fill="#fff" opacity="0.22"/><rect x="77.40" y="262" width="0.6" height="60" fill="#fff" opacity="0.22"/><rect x="83.70" y="262" width="0.6" height="60" fill="#fff" opacity="0.22"/><rect x="90.00" y="262" width="0.6" height="60" fill="#fff" opacity="0.22"/><rect x="96.30" y="262" width="0.6" height="60" fill="#fff" opacity="0.22"/><rect x="102.60" y="262" width="0.6" height="60" fill="#fff" opacity="0.22"/><rect x="108.90" y="262" width="0.6" height="60" fill="#fff" opacity="0.22"/><rect x="115.20" y="262" width="0.6" height="60" fill="#fff" opacity="0.22"/><rect x="121.50" y="262" width="0.6" height="60" fill="#fff" opacity="0.22"/><rect x="127.80" y="262" width="0.6" height="60" fill="#fff" opacity="0.22"/><rect x="134.10" y="262" width="0.6" height="60" fill="#fff" opacity="0.22"/><rect x="140.40" y="262" width="0.6" height="60" fill="#fff" opacity="0.22"/><rect x="146.70" y="262" width="0.6" height="60" fill="#fff" opacity="0.22"/><rect x="153.00" y="262" width="0.6" height="60" fill="#fff" opacity="0.22"/><rect x="159.30" y="262" width="0.6" height="60" fill="#fff" opacity="0.22"/><rect x="165.60" y="262" width="0.6" height="60" fill="#fff" opacity="0.22"/><rect x="171.90" y="262" width="0.6" height="60" fill="#fff" opacity="0.22"/><rect x="178.20" y="262" width="0.6" height="60" fill="#fff" opacity="0.22"/><rect x="184.50" y="262" width="0.6" height="60" fill="#fff" opacity="0.22"/><rect x="190.80" y="262" width="0.6" height="60" fill="#fff" opacity="0.22"/><rect x="197.10" y="262" width="0.6" height="60" fill="#fff" opacity="0.22"/><rect x="203.40" y="262" width="0.6" height="60" fill="#fff" opacity="0.22"/><rect x="209.70" y="262" width="0.6" height="60" fill="#fff" opacity="0.22"/><rect x="216.00" y="262" width="0.6" height="60" fill="#fff" opacity="0.22"/><rect x="222.30" y="262" width="0.6" height="60" fill="#fff" opacity="0.22"/><rect x="228.60" y="262" width="0.6" height="60" fill="#fff" opacity="0.22"/><rect x="234.90" y="262" width="0.6" height="60" fill="#fff" opacity="0.22"/><rect x="241.20" y="262" width="0.6" height="60" fill="#fff" opacity="0.22"/><rect x="247.50" y="262" width="0.6" height="60" fill="#fff" opacity="0.22"/><rect x="253.80" y="262" width="0.6" height="60" fill="#fff" opacity="0.22"/><rect x="260.10" y="262" width="0.6" height="60" fill="#fff" opacity="0.22"/><rect x="266.40" y="262" width="0.6" height="60" fill="#fff" opacity="0.22"/><rect x="272.70" y="262" width="0.6" height="60" fill="#fff" opacity="0.22"/><rect x="279.00" y="262" width="0.6" height="60" fill="#fff" opacity="0.22"/><rect x="285.30" y="262" width="0.6" height="60" fill="#fff" opacity="0.22"/><rect x="291.60" y="262" width="0.6" height="60" fill="#fff" opacity="0.22"/><rect x="297.90" y="262" width="0.6" height="60" fill="#fff" opacity="0.22"/><rect x="304.20" y="262" width="0.6" height="60" fill="#fff" opacity="0.22"/><rect x="310.50" y="262" width="0.6" height="60" fill="#fff" opacity="0.22"/><rect x="316.80" y="262" width="0.6" height="60" fill="#fff" opacity="0.22"/><rect x="323.10" y="262" width="0.6" height="60" fill="#fff" opacity="0.22"/><rect x="329.40" y="262" width="0.6" height="60" fill="#fff" opacity="0.22"/><rect x="335.70" y="262" width="0.6" height="60" fill="#fff" opacity="0.22"/><rect x="342.00" y="262" width="0.6" height="60" fill="#fff" opacity="0.22"/><rect x="348.30" y="262" width="0.6" height="60" fill="#fff" opacity="0.22"/><rect x="354.60" y="262" width="0.6" height="60" fill="#fff" opacity="0.22"/><rect x="360.90" y="262" width="0.6" height="60" fill="#fff" opacity="0.22"/><rect x="367.20" y="262" width="0.6" height="60" fill="#fff" opacity="0.22"/><rect x="373.50" y="262" width="0.6" height="60" fill="#fff" opacity="0.22"/><rect x="379.80" y="262" width="0.6" height="60" fill="#fff" opacity="0.22"/><rect x="386.10" y="262" width="0.6" height="60" fill="#fff" opacity="0.22"/><rect x="392.40" y="262" width="0.6" height="60" fill="#fff" opacity="0.22"/><rect x="398.70" y="262" width="0.6" height="60" fill="#fff" opacity="0.22"/><rect x="405.00" y="262" width="0.6" height="60" fill="#fff" opacity="0.22"/><rect x="411.30" y="262" width="0.6" height="60" fill="#fff" opacity="0.22"/><rect x="417.60" y="262" width="0.6" height="60" fill="#fff" opacity="0.22"/><rect x="423.90" y="262" width="0.6" height="60" fill="#fff" opacity="0.22"/><rect x="430.20" y="262" width="0.6" height="60" fill="#fff" opacity="0.22"/><rect x="436.50" y="262" width="0.6" height="60" fill="#fff" opacity="0.22"/><rect x="442.80" y="262" width="0.6" height="60" fill="#fff" opacity="0.22"/><rect x="449.10" y="262" width="0.6" height="60" fill="#fff" opacity="0.22"/><rect x="455.40" y="262" width="0.6" height="60" fill="#fff" opacity="0.22"/><rect x="461.70" y="262" width="0.6" height="60" fill="#fff" opacity="0.22"/><rect x="468.00" y="262" width="0.6" height="60" fill="#fff" opacity="0.22"/><rect x="474.30" y="262" width="0.6" height="60" fill="#fff" opacity="0.22"/><rect x="480.60" y="262" width="0.6" height="60" fill="#fff" opacity="0.22"/><rect x="486.90" y="262" width="0.6" height="60" fill="#fff" opacity="0.22"/><rect x="493.20" y="262" width="0.6" height="60" fill="#fff" opacity="0.22"/><rect x="499.50" y="262" width="0.6" height="60" fill="#fff" opacity="0.22"/><rect x="505.80" y="262" width="0.6" height="60" fill="#fff" opacity="0.22"/><rect x="512.10" y="262" width="0.6" height="60" fill="#fff" opacity="0.22"/><rect x="518.40" y="262" width="0.6" height="60" fill="#fff" opacity="0.22"/><rect x="524.70" y="262" width="0.6" height="60" fill="#fff" opacity="0.22"/><rect x="531.00" y="262" width="0.6" height="60" fill="#fff" opacity="0.22"/><rect x="537.30" y="262" width="0.6" height="60" fill="#fff" opacity="0.22"/><rect x="543.60" y="262" width="0.6" height="60" fill="#fff" opacity="0.22"/><rect x="549.90" y="262" width="0.6" height="60" fill="#fff" opacity="0.22"/><rect x="556.20" y="262" width="0.6" height="60" fill="#fff" opacity="0.22"/><rect x="562.50" y="262" width="0.6" height="60" fill="#fff" opacity="0.22"/><rect x="568.80" y="262" width="0.6" height="60" fill="#fff" opacity="0.22"/><rect x="575.10" y="262" width="0.6" height="60" fill="#fff" opacity="0.22"/><rect x="581.40" y="262" width="0.6" height="60" fill="#fff" opacity="0.22"/><rect x="587.70" y="262" width="0.6" height="60" fill="#fff" opacity="0.22"/><rect x="594.00" y="262" width="0.6" height="60" fill="#fff" opacity="0.22"/><rect x="600.30" y="262" width="0.6" height="60" fill="#fff" opacity="0.22"/>
<polyline points="58.3,274.4 64.8,271.0 71.4,267.8 87.7,266.2 104.1,265.4 120.5,264.5 133.6,265.4 146.7,267.0 161.4,271.0 170.0,274.4 176.5,278.5 186.4,279.3 202.7,281.7 217.5,285.0 235.5,285.8 251.8,285.8 268.2,286.2 289.5,287.1 314.5,287.5 339.0,285.0 355.5,284.2 371.8,284.5 386.6,285.8 388.2,283.9 396.4,284.2 410.0,284.5 432.5,284.5 447.5,286.5 459.5,287.0 485.0,285.4 500.0,285.2 511.3,285.3 516.2,286.3 539.1,286.6 555.5,285.5 571.8,284.7 581.7,283.4 589.8,283.0 601.3,279.3" fill="none" stroke="#7ecbef" stroke-width="0.9"/>
<rect x="58" y="267" width="77" height="11.5" fill="#fff" opacity="0.45"/>

<!-- pane 2 -->
<polyline points="57.5,345.3 80.0,344.5 100.0,343.5 120.0,340.0 140.0,337.0 180.0,334.0 220.0,332.6 245.0,332.0 300.0,332.5 320.0,333.5 380.0,333.5 440.0,334.5 480.0,336.0 560.0,335.5 601.5,334.0" fill="none" stroke="#8fd0f0" stroke-width="0.9"/>
<rect x="58" y="376.6" width="544" height="1.1" fill="#6cc4ee"/>

<!-- ===== left price scale ===== -->
<rect x="4.5" y="33" width="50.5" height="18.3" rx="3" fill="#fff" stroke="#e0e3eb" stroke-width="0.8"/>
<text x="7" y="44.4" font-size="9" class="m" style="stroke-width:0.2px" textLength="15.5" lengthAdjust="spacingAndGlyphs">USD</text>
<path d="M47.3 41.6L48.8 43L50.3 41.6" stroke="#131722" stroke-width="0.9" fill="none"/>
<text x="13" y="76.2" font-size="8.6" textLength="38.5" lengthAdjust="spacingAndGlyphs">90.000,00</text>
<text x="13" y="162.3" font-size="8.6" textLength="38.5" lengthAdjust="spacingAndGlyphs">70.000,00</text>
<text x="13" y="205.5" font-size="8.6" textLength="38.5" lengthAdjust="spacingAndGlyphs">60.000,00</text>
<rect x="9.2" y="55.1" width="48.5" height="14.3" rx="1" fill="#131722"/>
<text x="12.5" y="64.9" font-size="8.6" style="fill:#fff" textLength="39" lengthAdjust="spacingAndGlyphs">92.874,24</text>
<rect x="9.2" y="94.3" width="48.5" height="12.4" rx="1" fill="#e65100"/>
<text x="13" y="102.8" font-size="8.6" style="fill:#fff" textLength="38.5" lengthAdjust="spacingAndGlyphs">84.000,00</text>
<rect x="9.2" y="113.2" width="48.5" height="12" rx="1" fill="#f0525a"/>
<text x="13" y="122.4" font-size="8.6" style="fill:#fff" textLength="38.5" lengthAdjust="spacingAndGlyphs">79.545,96</text>
<rect x="9.2" y="236.6" width="48.5" height="12.4" rx="1" fill="#e65100"/>
<text x="13" y="245.2" font-size="8.6" style="fill:#fff" textLength="38.5" lengthAdjust="spacingAndGlyphs">50.571,38</text>

<!-- ===== legend ===== -->
<circle cx="71.4" cy="41.5" r="6.3" fill="#f7931a"/>
<text x="71.4" y="44.6" font-size="8" class="b" text-anchor="middle" style="fill:#fff">₿</text>
<g font-size="11.2" class="m" style="stroke-width:0.25px"><text x="81.3" y="45.6" textLength="35.7" lengthAdjust="spacingAndGlyphs">Bitcoin</text><text x="122.3" y="45.6">/</text><text x="130.8" y="45.6" textLength="27.5" lengthAdjust="spacingAndGlyphs">Dolar</text><text x="161.9" y="45.6" text-anchor="middle">·</text><text x="167" y="45.6" textLength="10.6" lengthAdjust="spacingAndGlyphs">4s</text><text x="182.3" y="45.6" text-anchor="middle">·</text><text x="187" y="45.6" textLength="44.3" lengthAdjust="spacingAndGlyphs">BINANCE</text></g>
<rect x="243.1" y="35.1" width="29.3" height="12.6" rx="6.3" fill="#daf1ec"/>
<path d="M257.75 35.1H266.1A6.3 6.3 0 0 1 266.1 47.7H257.75Z" fill="#ebd0f0"/>
<circle cx="251.2" cy="41.4" r="2.9" fill="#089981"/>
<g fill="#a83cbd"><circle cx="260.5" cy="41.5" r="1.45"/><circle cx="265.6" cy="38.2" r="1.45"/><circle cx="265.6" cy="44.7" r="1.45"/></g>
<path d="M260.5 41.5L265.6 38.2V44.7Z" stroke="#a83cbd" stroke-width="1" fill="none"/>
<g font-size="8.8">
<text x="283.9" y="45" class="m" style="stroke-width:0.25px">A</text><text x="290.3" y="45" style="fill:#f23645" textLength="42" lengthAdjust="spacingAndGlyphs">79.772,28</text>
<text x="337.1" y="45" class="m" style="stroke-width:0.25px">Y</text><text x="342.6" y="45" style="fill:#f23645" textLength="41.7" lengthAdjust="spacingAndGlyphs">80.022,95</text>
<text x="389.7" y="45" class="m" style="stroke-width:0.25px">D</text><text x="396" y="45" style="fill:#f23645" textLength="41.5" lengthAdjust="spacingAndGlyphs">79.169,98</text>
<text x="442.3" y="45" class="m" style="stroke-width:0.25px">K</text><text x="448.5" y="45" style="fill:#f23645" textLength="41.8" lengthAdjust="spacingAndGlyphs">79.545,96</text>
</g>
<!-- chart buttons -->
<g fill="#fff" stroke="#e0e3eb" stroke-width="0.8">
<rect x="661.3" y="33.5" width="15.7" height="15.9" rx="3"/>
<rect x="681.4" y="33.5" width="15.9" height="15.9" rx="3"/>
<rect x="701.6" y="33.5" width="16.2" height="15.9" rx="3"/>
</g>
<g stroke="#131722" stroke-width="0.9" fill="none" stroke-linecap="round">
<path d="M669.2 37.6V44.8M666.6 42.2L669.2 44.8L671.8 42.2"/>
<path d="M687.2 37.4L689.4 39.5L691.6 37.4M687.2 45.4L689.4 43.3L691.6 45.4"/>
<path d="M705.5 39.7V38.7Q705.5 37.3 707 37.3H712.4Q713.9 37.3 713.9 38.7V39.7M705.5 43.3V44.2Q705.5 45.6 707 45.6H712.4Q713.9 45.6 713.9 44.2V43.3"/>
</g>
<!-- order buttons -->
<rect x="122" y="54" width="27" height="23" fill="#fff"/>
<rect x="64.6" y="53.3" width="57.8" height="24.9" rx="4" fill="#fff" stroke="#f7727c" stroke-width="0.9"/>
<text x="93.5" y="64.3" font-size="9.6" class="b" text-anchor="middle" style="fill:#f23645" textLength="42" lengthAdjust="spacingAndGlyphs">79.545,96</text>
<text x="93.5" y="74.3" font-size="8" text-anchor="middle" style="fill:#f23645">SAT</text>
<text x="128" y="68.3" font-size="7.6" textLength="15" lengthAdjust="spacingAndGlyphs">0,00</text>
<rect x="148.6" y="53.3" width="57.8" height="24.9" rx="4" fill="#fff" stroke="#5b7fff" stroke-width="0.9"/>
<text x="177.5" y="64.3" font-size="9.6" class="b" text-anchor="middle" style="fill:#2962ff" textLength="42" lengthAdjust="spacingAndGlyphs">79.545,96</text>
<text x="177.5" y="74.3" font-size="8" text-anchor="middle" style="fill:#2962ff">AL</text>

<!-- pane1 legend -->
<text x="65" y="273.6" font-size="9.4" class="m" style="stroke-width:0.2px" textLength="46.8" lengthAdjust="spacingAndGlyphs">Trigger line</text>
<text x="118.5" y="273.6" font-size="9.4" style="fill:#f23645" textLength="59.8" lengthAdjust="spacingAndGlyphs">83.772.217,15</text>
<text x="183.7" y="273.6" font-size="9.4" style="fill:#2a2ef0" textLength="65.5" lengthAdjust="spacingAndGlyphs">−79.381.982,50</text>
<text x="254.3" y="273.6" font-size="9.4" style="fill:#4fb3e6" textLength="64.5" lengthAdjust="spacingAndGlyphs">122.826.862,47</text>

<!-- pane2 legend -->
<text x="65" y="341.6" font-size="9" class="m" style="stroke-width:0.2px" textLength="54" lengthAdjust="spacingAndGlyphs">target finder</text>
<circle cx="131.9" cy="338.4" r="6.3" fill="#d3efdc" opacity="0.75"/>
<path d="M130.6 334.2Q128.6 334.2 128.6 336.2V337.4Q128.6 338.4 127.2 338.4Q128.6 338.4 128.6 339.4V340.8Q128.6 342.8 130.6 342.8M133.2 334.2Q135.2 334.2 135.2 336.2V337.4Q135.2 338.4 136.6 338.4Q135.2 338.4 135.2 339.4V340.8Q135.2 342.8 133.2 342.8" stroke="#1f9d55" stroke-width="1.3" fill="none"/>
<text x="145" y="341.6" font-size="9.6" style="fill:#4aa8e0" textLength="16.6" lengthAdjust="spacingAndGlyphs">1,25</text>
<text x="167" y="341.6" font-size="9.6" style="fill:#4aa8e0" textLength="18.6" lengthAdjust="spacingAndGlyphs">0,80</text>
<text x="190.4" y="341.6" font-size="9.6" style="fill:#4aa8e0" textLength="41.6" lengthAdjust="spacingAndGlyphs">84.031,09</text>

<!-- TV logo -->
<g fill="#131722">
<path d="M66.9 361.4H75.9V372.1H71V365.8H66.9Z"/>
<circle cx="79.4" cy="363.4" r="1.8"/>
<path d="M83.6 361.4H88.7L84.4 372.1H79.3Z"/>
</g>
<text x="94.3" y="372.1" font-size="14.6" class="b" textLength="88.2" lengthAdjust="spacingAndGlyphs">TradingView</text>

<!-- right scale labels -->
<g font-size="8.2">
<text x="727.4" y="272.6" textLength="60.2" lengthAdjust="spacingAndGlyphs">200.000.000,00</text>
<text x="727.4" y="296.8" textLength="17" lengthAdjust="spacingAndGlyphs">0,00</text>
<text x="727.4" y="319.7" textLength="65.6" lengthAdjust="spacingAndGlyphs">−200.000.000,00</text>
<text x="727.4" y="354.4" textLength="38" lengthAdjust="spacingAndGlyphs">50.000,00</text>
<text x="727.4" y="379.9" textLength="17" lengthAdjust="spacingAndGlyphs">0,00</text>
</g>

<!-- time axis -->
<g font-size="8.2" text-anchor="middle">
<text x="109" y="396.4">Nis</text>
<text x="175.5" y="396.4">May</text>
<text x="243.7" y="396.4">Haz</text>
<text x="309.6" y="396.4">Tem</text>
<text x="446.2" y="396.4">Eyl</text>
<text x="512.3" y="396.4">Eki</text>
<text x="580.3" y="396.4">Kas</text>
<text x="714.6" y="396.4" clip-path="url(#clipR)">2025</text>
</g>
<path d="M341 382.8H437.7V397.7Q437.7 399.7 435.7 399.7H343Q341 399.7 341 397.7Z" fill="#2962ff"/>
<text x="347.3" y="395.7" font-size="8.2" style="fill:#fff;stroke:#fff;stroke-width:0.35px" textLength="54" lengthAdjust="spacingAndGlyphs">Sal 06 Ağu '24</text>
<text x="408.5" y="395.7" font-size="8.2" style="fill:#fff;stroke:#fff;stroke-width:0.35px" textLength="22.5" lengthAdjust="spacingAndGlyphs">03:00</text>
<path d="M620.8 382.5H718.3V397.8Q718.3 399.8 716.3 399.8H622.8Q620.8 399.8 620.8 397.8Z" fill="#131722"/>
<text x="627.5" y="395.7" font-size="8.2" style="fill:#fff;stroke:#fff;stroke-width:0.35px" textLength="55" lengthAdjust="spacingAndGlyphs">Çar 11 Ara '24</text>
<text x="690" y="395.7" font-size="8.2" style="fill:#fff;stroke:#fff;stroke-width:0.35px" textLength="22" lengthAdjust="spacingAndGlyphs">18:00</text>
<circle cx="29.6" cy="392.5" r="6.8" fill="#f0f3fa"/>
<text x="29.6" y="395.6" font-size="8.4" text-anchor="middle" style="fill:#6a6d78">Z</text>
<circle cx="761" cy="393" r="6.8" fill="#f0f3fa"/>
<text x="761" y="396.1" font-size="8.4" text-anchor="middle" style="fill:#6a6d78">A</text>

<!-- bottom toolbar -->
<g font-size="10.2" class="m" style="stroke-width:0.25px">
<text x="11.8" y="420.5" textLength="11.8" lengthAdjust="spacingAndGlyphs">1G</text>
<text x="32.7" y="420.5" textLength="11.2" lengthAdjust="spacingAndGlyphs">5G</text>
<text x="54" y="420.5" textLength="10.8" lengthAdjust="spacingAndGlyphs">1A</text>
<text x="74.2" y="420.5" textLength="10.8" lengthAdjust="spacingAndGlyphs">3A</text>
<text x="94.5" y="420.5" textLength="10.8" lengthAdjust="spacingAndGlyphs">6A</text>
<text x="114.7" y="420.5" textLength="34.5" lengthAdjust="spacingAndGlyphs">Bu sene</text>
<text x="159.3" y="420.5" textLength="10.1" lengthAdjust="spacingAndGlyphs">1Y</text>
<text x="178.9" y="420.5" textLength="10.8" lengthAdjust="spacingAndGlyphs">5Y</text>
<text x="199.1" y="420.5" textLength="25.3" lengthAdjust="spacingAndGlyphs">Tümü</text>
<text x="713.8" y="420.6" textLength="79.3" lengthAdjust="spacingAndGlyphs">15:14:43 (UTC+2)</text>
</g>
<rect x="232.5" y="407.5" width="1" height="15" fill="#e0e3eb"/>
<g stroke="#131722" stroke-width="1" fill="none" stroke-linecap="round">
<path d="M242.9 414.8V412.1Q242.9 411.1 243.9 411.1H254.5Q255.5 411.1 255.5 412.1V421.3Q255.5 422.3 254.5 422.3H249.4M242.9 414.3H255.5M246.4 409.4V412.5M251.6 409.4V412.5M242 420.2H247.6M245.7 418.2L247.6 420.2L245.7 422.2"/>
</g>
</svg>
</body></html>
